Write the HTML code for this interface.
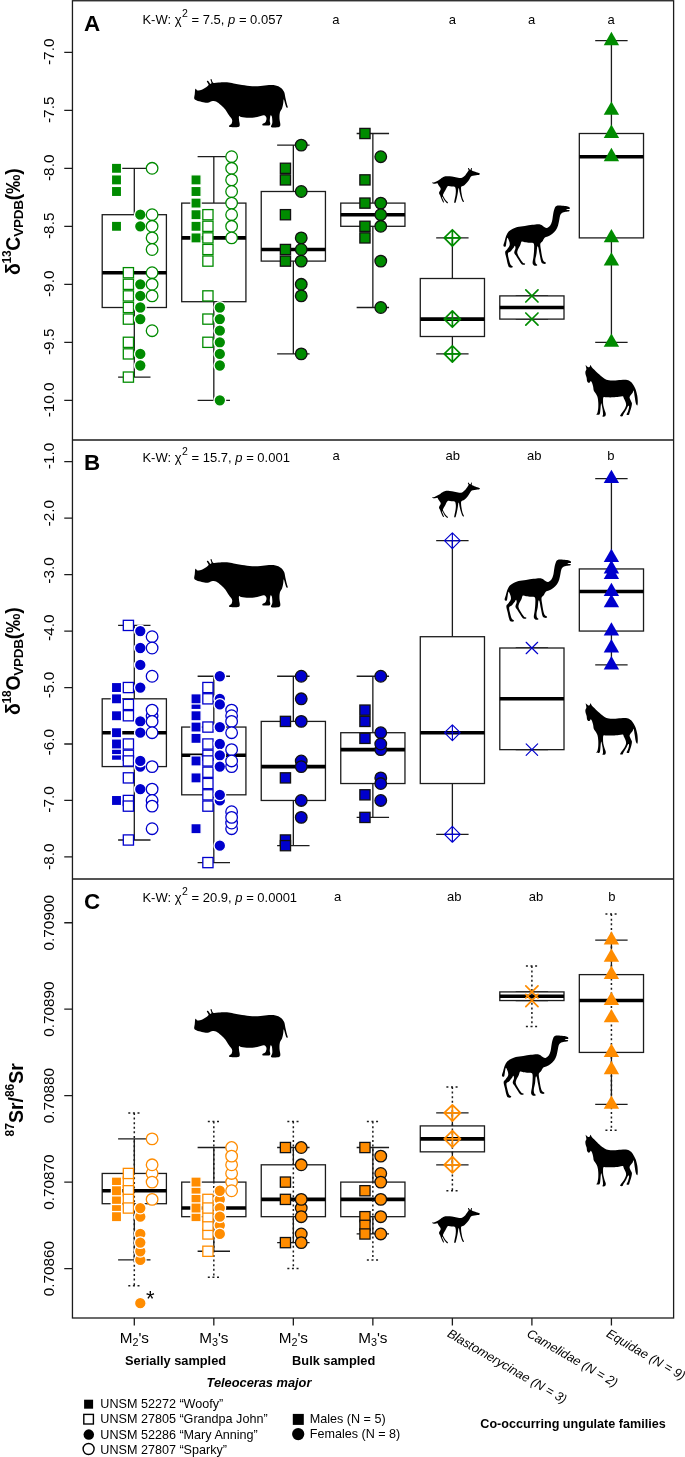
<!DOCTYPE html>
<html><head><meta charset="utf-8"><title>Isotope box plots</title>
<style>html,body{margin:0;padding:0;background:#fff}svg{display:block}text{font-family:"Liberation Sans",sans-serif;fill:#000}</style></head>
<body>
<svg width="685" height="1457" viewBox="0 0 685 1457">
<rect width="685" height="1457" fill="#fff"/>
<path transform="translate(0 0)" fill="#000" d="M195.41 88.8C195.88 88.16 196.53 90.31 197.59 90.48C198.65 90.65 200.11 90.56 201.79 89.81C203.47 89.05 206.54 86.87 207.66 85.95C208.78 85.02 208.64 85.02 208.5 84.27C208.36 83.51 206.88 81.95 206.82 81.42C206.77 80.88 207.61 80.69 208.17 81.08C208.73 81.47 209.62 83.43 210.18 83.77C210.74 84.1 211.47 83.79 211.52 83.09C211.58 82.39 210.52 80.21 210.52 79.57C210.52 78.93 211.08 78.7 211.52 79.23C211.97 79.76 212.03 82.23 213.2 82.76C214.38 83.29 216.28 82.51 218.57 82.42C220.87 82.34 224.45 82.09 226.97 82.25C229.49 82.42 231.16 82.95 233.68 83.43C236.2 83.91 239 84.63 242.08 85.11C245.15 85.58 249.07 86.12 252.15 86.28C255.23 86.45 257.74 86.31 260.54 86.12C263.34 85.92 266.42 85.22 268.93 85.11C271.45 85 273.69 85.02 275.65 85.44C277.61 85.86 279.29 86.56 280.69 87.63C282.08 88.69 283.26 90.14 284.04 91.82C284.83 93.5 284.94 95.74 285.39 97.7C285.83 99.66 286.34 101.98 286.73 103.57C287.12 105.17 287.79 106.65 287.74 107.27C287.68 107.88 286.87 108.02 286.39 107.27C285.92 106.51 285.33 104.05 284.88 102.73C284.43 101.42 283.99 99.24 283.71 99.38C283.43 99.52 283.48 102.04 283.2 103.57C282.92 105.11 282.59 107.07 282.03 108.61C281.47 110.15 280.27 111.13 279.85 112.81C279.43 114.49 279.43 116.72 279.51 118.68C279.59 120.64 280.43 123.16 280.35 124.56C280.27 125.96 280.35 126.6 279.01 127.08C277.66 127.55 273.64 127.55 272.29 127.41C270.95 127.27 270.95 126.99 270.95 126.24C270.95 125.48 272.12 124.42 272.29 122.88C272.46 121.34 272.24 118.26 271.96 117C271.68 115.74 270.98 114.77 270.61 115.32C270.25 115.88 269.83 118.91 269.77 120.36C269.72 121.82 270.42 123.21 270.28 124.05C270.14 124.89 270.14 125.17 268.93 125.4C267.73 125.62 264.12 125.62 263.06 125.4C262 125.17 262.14 124.61 262.56 124.05C262.98 123.49 264.93 123.07 265.58 122.04C266.22 121 266.7 118.96 266.42 117.84C266.14 116.72 265.44 115.46 263.9 115.32C262.36 115.18 259.7 116.58 257.18 117C254.67 117.42 251.45 117.84 248.79 117.84C246.13 117.84 242.86 117.28 241.24 117C239.61 116.72 239.42 115.6 239.05 116.16C238.69 116.72 238.94 118.96 239.05 120.36C239.17 121.76 239.84 123.44 239.73 124.56C239.61 125.68 239.95 126.66 238.38 127.08C236.82 127.5 231.86 127.3 230.32 127.08C228.79 126.85 228.93 126.35 229.15 125.73C229.37 125.12 231.19 124.42 231.67 123.38C232.14 122.35 232.45 120.86 232 119.52C231.56 118.18 230.1 117 228.98 115.32C227.86 113.65 226.6 111.13 225.29 109.45C223.97 107.77 222.63 106.57 221.09 105.25C219.55 103.94 217.45 102.26 216.06 101.56C214.66 100.86 214.1 100.86 212.7 101.06C211.3 101.25 209.48 102.59 207.66 102.73C205.84 102.87 203.61 102.26 201.79 101.9C199.97 101.53 198.01 101.11 196.75 100.55C195.49 99.99 194.57 99.57 194.23 98.54C193.9 97.5 194.54 95.96 194.74 94.34C194.93 92.72 194.93 89.44 195.41 88.8Z"/>
<path transform="translate(0 480)" fill="#000" d="M195.41 88.8C195.88 88.16 196.53 90.31 197.59 90.48C198.65 90.65 200.11 90.56 201.79 89.81C203.47 89.05 206.54 86.87 207.66 85.95C208.78 85.02 208.64 85.02 208.5 84.27C208.36 83.51 206.88 81.95 206.82 81.42C206.77 80.88 207.61 80.69 208.17 81.08C208.73 81.47 209.62 83.43 210.18 83.77C210.74 84.1 211.47 83.79 211.52 83.09C211.58 82.39 210.52 80.21 210.52 79.57C210.52 78.93 211.08 78.7 211.52 79.23C211.97 79.76 212.03 82.23 213.2 82.76C214.38 83.29 216.28 82.51 218.57 82.42C220.87 82.34 224.45 82.09 226.97 82.25C229.49 82.42 231.16 82.95 233.68 83.43C236.2 83.91 239 84.63 242.08 85.11C245.15 85.58 249.07 86.12 252.15 86.28C255.23 86.45 257.74 86.31 260.54 86.12C263.34 85.92 266.42 85.22 268.93 85.11C271.45 85 273.69 85.02 275.65 85.44C277.61 85.86 279.29 86.56 280.69 87.63C282.08 88.69 283.26 90.14 284.04 91.82C284.83 93.5 284.94 95.74 285.39 97.7C285.83 99.66 286.34 101.98 286.73 103.57C287.12 105.17 287.79 106.65 287.74 107.27C287.68 107.88 286.87 108.02 286.39 107.27C285.92 106.51 285.33 104.05 284.88 102.73C284.43 101.42 283.99 99.24 283.71 99.38C283.43 99.52 283.48 102.04 283.2 103.57C282.92 105.11 282.59 107.07 282.03 108.61C281.47 110.15 280.27 111.13 279.85 112.81C279.43 114.49 279.43 116.72 279.51 118.68C279.59 120.64 280.43 123.16 280.35 124.56C280.27 125.96 280.35 126.6 279.01 127.08C277.66 127.55 273.64 127.55 272.29 127.41C270.95 127.27 270.95 126.99 270.95 126.24C270.95 125.48 272.12 124.42 272.29 122.88C272.46 121.34 272.24 118.26 271.96 117C271.68 115.74 270.98 114.77 270.61 115.32C270.25 115.88 269.83 118.91 269.77 120.36C269.72 121.82 270.42 123.21 270.28 124.05C270.14 124.89 270.14 125.17 268.93 125.4C267.73 125.62 264.12 125.62 263.06 125.4C262 125.17 262.14 124.61 262.56 124.05C262.98 123.49 264.93 123.07 265.58 122.04C266.22 121 266.7 118.96 266.42 117.84C266.14 116.72 265.44 115.46 263.9 115.32C262.36 115.18 259.7 116.58 257.18 117C254.67 117.42 251.45 117.84 248.79 117.84C246.13 117.84 242.86 117.28 241.24 117C239.61 116.72 239.42 115.6 239.05 116.16C238.69 116.72 238.94 118.96 239.05 120.36C239.17 121.76 239.84 123.44 239.73 124.56C239.61 125.68 239.95 126.66 238.38 127.08C236.82 127.5 231.86 127.3 230.32 127.08C228.79 126.85 228.93 126.35 229.15 125.73C229.37 125.12 231.19 124.42 231.67 123.38C232.14 122.35 232.45 120.86 232 119.52C231.56 118.18 230.1 117 228.98 115.32C227.86 113.65 226.6 111.13 225.29 109.45C223.97 107.77 222.63 106.57 221.09 105.25C219.55 103.94 217.45 102.26 216.06 101.56C214.66 100.86 214.1 100.86 212.7 101.06C211.3 101.25 209.48 102.59 207.66 102.73C205.84 102.87 203.61 102.26 201.79 101.9C199.97 101.53 198.01 101.11 196.75 100.55C195.49 99.99 194.57 99.57 194.23 98.54C193.9 97.5 194.54 95.96 194.74 94.34C194.93 92.72 194.93 89.44 195.41 88.8Z"/>
<path transform="translate(0 930)" fill="#000" d="M195.41 88.8C195.88 88.16 196.53 90.31 197.59 90.48C198.65 90.65 200.11 90.56 201.79 89.81C203.47 89.05 206.54 86.87 207.66 85.95C208.78 85.02 208.64 85.02 208.5 84.27C208.36 83.51 206.88 81.95 206.82 81.42C206.77 80.88 207.61 80.69 208.17 81.08C208.73 81.47 209.62 83.43 210.18 83.77C210.74 84.1 211.47 83.79 211.52 83.09C211.58 82.39 210.52 80.21 210.52 79.57C210.52 78.93 211.08 78.7 211.52 79.23C211.97 79.76 212.03 82.23 213.2 82.76C214.38 83.29 216.28 82.51 218.57 82.42C220.87 82.34 224.45 82.09 226.97 82.25C229.49 82.42 231.16 82.95 233.68 83.43C236.2 83.91 239 84.63 242.08 85.11C245.15 85.58 249.07 86.12 252.15 86.28C255.23 86.45 257.74 86.31 260.54 86.12C263.34 85.92 266.42 85.22 268.93 85.11C271.45 85 273.69 85.02 275.65 85.44C277.61 85.86 279.29 86.56 280.69 87.63C282.08 88.69 283.26 90.14 284.04 91.82C284.83 93.5 284.94 95.74 285.39 97.7C285.83 99.66 286.34 101.98 286.73 103.57C287.12 105.17 287.79 106.65 287.74 107.27C287.68 107.88 286.87 108.02 286.39 107.27C285.92 106.51 285.33 104.05 284.88 102.73C284.43 101.42 283.99 99.24 283.71 99.38C283.43 99.52 283.48 102.04 283.2 103.57C282.92 105.11 282.59 107.07 282.03 108.61C281.47 110.15 280.27 111.13 279.85 112.81C279.43 114.49 279.43 116.72 279.51 118.68C279.59 120.64 280.43 123.16 280.35 124.56C280.27 125.96 280.35 126.6 279.01 127.08C277.66 127.55 273.64 127.55 272.29 127.41C270.95 127.27 270.95 126.99 270.95 126.24C270.95 125.48 272.12 124.42 272.29 122.88C272.46 121.34 272.24 118.26 271.96 117C271.68 115.74 270.98 114.77 270.61 115.32C270.25 115.88 269.83 118.91 269.77 120.36C269.72 121.82 270.42 123.21 270.28 124.05C270.14 124.89 270.14 125.17 268.93 125.4C267.73 125.62 264.12 125.62 263.06 125.4C262 125.17 262.14 124.61 262.56 124.05C262.98 123.49 264.93 123.07 265.58 122.04C266.22 121 266.7 118.96 266.42 117.84C266.14 116.72 265.44 115.46 263.9 115.32C262.36 115.18 259.7 116.58 257.18 117C254.67 117.42 251.45 117.84 248.79 117.84C246.13 117.84 242.86 117.28 241.24 117C239.61 116.72 239.42 115.6 239.05 116.16C238.69 116.72 238.94 118.96 239.05 120.36C239.17 121.76 239.84 123.44 239.73 124.56C239.61 125.68 239.95 126.66 238.38 127.08C236.82 127.5 231.86 127.3 230.32 127.08C228.79 126.85 228.93 126.35 229.15 125.73C229.37 125.12 231.19 124.42 231.67 123.38C232.14 122.35 232.45 120.86 232 119.52C231.56 118.18 230.1 117 228.98 115.32C227.86 113.65 226.6 111.13 225.29 109.45C223.97 107.77 222.63 106.57 221.09 105.25C219.55 103.94 217.45 102.26 216.06 101.56C214.66 100.86 214.1 100.86 212.7 101.06C211.3 101.25 209.48 102.59 207.66 102.73C205.84 102.87 203.61 102.26 201.79 101.9C199.97 101.53 198.01 101.11 196.75 100.55C195.49 99.99 194.57 99.57 194.23 98.54C193.9 97.5 194.54 95.96 194.74 94.34C194.93 92.72 194.93 89.44 195.41 88.8Z"/>
<path transform="translate(0 0)" fill="#000" d="M432.12 182.77C432.35 182.56 433.46 182.69 434.49 182.3C435.52 181.9 436.94 181.19 438.28 180.4C439.63 179.61 441.37 178.23 442.55 177.55C443.74 176.87 444.21 176.52 445.4 176.32C446.58 176.11 448.17 176.19 449.67 176.32C451.17 176.45 452.83 176.79 454.41 177.08C455.99 177.36 457.81 177.95 459.16 178.03C460.5 178.11 461.45 178.03 462.48 177.55C463.5 177.08 464.45 176.13 465.32 175.18C466.19 174.23 467.14 172.68 467.69 171.86C468.25 171.04 468.61 170.8 468.64 170.25C468.67 169.69 467.88 168.9 467.88 168.54C467.88 168.18 468.33 167.91 468.64 168.06C468.96 168.22 469.43 169.25 469.78 169.49C470.13 169.72 470.51 169.72 470.73 169.49C470.95 169.25 470.92 168.25 471.11 168.06C471.3 167.87 471.74 167.95 471.87 168.35C472 168.74 471.46 169.9 471.87 170.44C472.28 170.97 473.29 171.18 474.34 171.57C475.38 171.97 477.21 172.48 478.13 172.81C479.05 173.14 479.65 173.25 479.84 173.57C480.03 173.88 479.87 174.44 479.27 174.71C478.67 174.97 477.29 175.02 476.23 175.18C475.17 175.34 473.78 175.42 472.91 175.65C472.04 175.89 471.57 176.05 471.02 176.6C470.46 177.16 470.22 178.03 469.59 178.98C468.96 179.92 468.09 181.27 467.22 182.3C466.35 183.32 465.32 184.43 464.37 185.14C463.43 185.85 462.08 186.01 461.53 186.57C460.97 187.12 461.05 187.36 461.05 188.46C461.05 189.57 461.29 191.63 461.53 193.21C461.76 194.79 462.08 196.61 462.48 197.95C462.87 199.29 463.74 200.61 463.9 201.27C464.06 201.94 463.66 201.94 463.43 201.94C463.19 201.94 462.9 202.09 462.48 201.27C462.05 200.45 461.34 198.5 460.86 197C460.39 195.5 459.95 193.68 459.63 192.26C459.31 190.83 459.17 189.1 458.97 188.46C458.76 187.83 458.6 187.67 458.4 188.46C458.19 189.25 458 191.63 457.73 193.21C457.46 194.79 457.1 196.53 456.78 197.95C456.47 199.37 456.1 200.92 455.83 201.75C455.57 202.57 455.44 202.76 455.17 202.88C454.9 203.01 454.32 203.01 454.22 202.5C454.13 202 454.38 201.08 454.6 199.85C454.82 198.61 455.34 196.69 455.55 195.1C455.76 193.52 455.95 191.7 455.83 190.36C455.72 189.02 455.6 187.67 454.89 187.04C454.17 186.41 452.67 186.72 451.57 186.57C450.46 186.41 449.04 185.93 448.24 186.09C447.45 186.25 447.3 186.8 446.82 187.51C446.35 188.23 445.95 189.33 445.4 190.36C444.85 191.39 443.9 192.81 443.5 193.68C443.11 194.55 442.71 194.55 443.03 195.58C443.34 196.61 444.61 198.74 445.4 199.85C446.19 200.96 447.38 201.67 447.77 202.22C448.17 202.77 447.96 203.06 447.77 203.17C447.58 203.28 447.19 203.36 446.63 202.88C446.08 202.41 445.13 201.3 444.45 200.32C443.77 199.34 442.95 197.48 442.55 197C442.16 196.53 441.92 196.84 442.08 197.48C442.24 198.11 443.18 200.01 443.5 200.8C443.82 201.59 444.05 201.98 443.98 202.22C443.9 202.46 443.42 202.69 443.03 202.22C442.63 201.75 442.08 200.48 441.6 199.37C441.13 198.27 440.61 196.69 440.18 195.58C439.75 194.47 438.96 193.76 439.04 192.73C439.12 191.7 440.46 190.28 440.65 189.41C440.84 188.54 440.58 188.3 440.18 187.51C439.78 186.72 438.76 185.38 438.28 184.67C437.81 183.96 437.89 183.4 437.33 183.24C436.78 183.09 435.67 183.67 434.96 183.72C434.25 183.77 433.54 183.69 433.06 183.53C432.59 183.37 431.88 182.98 432.12 182.77Z"/>
<path transform="translate(0 314.6)" fill="#000" d="M432.12 182.77C432.35 182.56 433.46 182.69 434.49 182.3C435.52 181.9 436.94 181.19 438.28 180.4C439.63 179.61 441.37 178.23 442.55 177.55C443.74 176.87 444.21 176.52 445.4 176.32C446.58 176.11 448.17 176.19 449.67 176.32C451.17 176.45 452.83 176.79 454.41 177.08C455.99 177.36 457.81 177.95 459.16 178.03C460.5 178.11 461.45 178.03 462.48 177.55C463.5 177.08 464.45 176.13 465.32 175.18C466.19 174.23 467.14 172.68 467.69 171.86C468.25 171.04 468.61 170.8 468.64 170.25C468.67 169.69 467.88 168.9 467.88 168.54C467.88 168.18 468.33 167.91 468.64 168.06C468.96 168.22 469.43 169.25 469.78 169.49C470.13 169.72 470.51 169.72 470.73 169.49C470.95 169.25 470.92 168.25 471.11 168.06C471.3 167.87 471.74 167.95 471.87 168.35C472 168.74 471.46 169.9 471.87 170.44C472.28 170.97 473.29 171.18 474.34 171.57C475.38 171.97 477.21 172.48 478.13 172.81C479.05 173.14 479.65 173.25 479.84 173.57C480.03 173.88 479.87 174.44 479.27 174.71C478.67 174.97 477.29 175.02 476.23 175.18C475.17 175.34 473.78 175.42 472.91 175.65C472.04 175.89 471.57 176.05 471.02 176.6C470.46 177.16 470.22 178.03 469.59 178.98C468.96 179.92 468.09 181.27 467.22 182.3C466.35 183.32 465.32 184.43 464.37 185.14C463.43 185.85 462.08 186.01 461.53 186.57C460.97 187.12 461.05 187.36 461.05 188.46C461.05 189.57 461.29 191.63 461.53 193.21C461.76 194.79 462.08 196.61 462.48 197.95C462.87 199.29 463.74 200.61 463.9 201.27C464.06 201.94 463.66 201.94 463.43 201.94C463.19 201.94 462.9 202.09 462.48 201.27C462.05 200.45 461.34 198.5 460.86 197C460.39 195.5 459.95 193.68 459.63 192.26C459.31 190.83 459.17 189.1 458.97 188.46C458.76 187.83 458.6 187.67 458.4 188.46C458.19 189.25 458 191.63 457.73 193.21C457.46 194.79 457.1 196.53 456.78 197.95C456.47 199.37 456.1 200.92 455.83 201.75C455.57 202.57 455.44 202.76 455.17 202.88C454.9 203.01 454.32 203.01 454.22 202.5C454.13 202 454.38 201.08 454.6 199.85C454.82 198.61 455.34 196.69 455.55 195.1C455.76 193.52 455.95 191.7 455.83 190.36C455.72 189.02 455.6 187.67 454.89 187.04C454.17 186.41 452.67 186.72 451.57 186.57C450.46 186.41 449.04 185.93 448.24 186.09C447.45 186.25 447.3 186.8 446.82 187.51C446.35 188.23 445.95 189.33 445.4 190.36C444.85 191.39 443.9 192.81 443.5 193.68C443.11 194.55 442.71 194.55 443.03 195.58C443.34 196.61 444.61 198.74 445.4 199.85C446.19 200.96 447.38 201.67 447.77 202.22C448.17 202.77 447.96 203.06 447.77 203.17C447.58 203.28 447.19 203.36 446.63 202.88C446.08 202.41 445.13 201.3 444.45 200.32C443.77 199.34 442.95 197.48 442.55 197C442.16 196.53 441.92 196.84 442.08 197.48C442.24 198.11 443.18 200.01 443.5 200.8C443.82 201.59 444.05 201.98 443.98 202.22C443.9 202.46 443.42 202.69 443.03 202.22C442.63 201.75 442.08 200.48 441.6 199.37C441.13 198.27 440.61 196.69 440.18 195.58C439.75 194.47 438.96 193.76 439.04 192.73C439.12 191.7 440.46 190.28 440.65 189.41C440.84 188.54 440.58 188.3 440.18 187.51C439.78 186.72 438.76 185.38 438.28 184.67C437.81 183.96 437.89 183.4 437.33 183.24C436.78 183.09 435.67 183.67 434.96 183.72C434.25 183.77 433.54 183.69 433.06 183.53C432.59 183.37 431.88 182.98 432.12 182.77Z"/>
<path transform="translate(0 1040)" fill="#000" d="M432.12 182.77C432.35 182.56 433.46 182.69 434.49 182.3C435.52 181.9 436.94 181.19 438.28 180.4C439.63 179.61 441.37 178.23 442.55 177.55C443.74 176.87 444.21 176.52 445.4 176.32C446.58 176.11 448.17 176.19 449.67 176.32C451.17 176.45 452.83 176.79 454.41 177.08C455.99 177.36 457.81 177.95 459.16 178.03C460.5 178.11 461.45 178.03 462.48 177.55C463.5 177.08 464.45 176.13 465.32 175.18C466.19 174.23 467.14 172.68 467.69 171.86C468.25 171.04 468.61 170.8 468.64 170.25C468.67 169.69 467.88 168.9 467.88 168.54C467.88 168.18 468.33 167.91 468.64 168.06C468.96 168.22 469.43 169.25 469.78 169.49C470.13 169.72 470.51 169.72 470.73 169.49C470.95 169.25 470.92 168.25 471.11 168.06C471.3 167.87 471.74 167.95 471.87 168.35C472 168.74 471.46 169.9 471.87 170.44C472.28 170.97 473.29 171.18 474.34 171.57C475.38 171.97 477.21 172.48 478.13 172.81C479.05 173.14 479.65 173.25 479.84 173.57C480.03 173.88 479.87 174.44 479.27 174.71C478.67 174.97 477.29 175.02 476.23 175.18C475.17 175.34 473.78 175.42 472.91 175.65C472.04 175.89 471.57 176.05 471.02 176.6C470.46 177.16 470.22 178.03 469.59 178.98C468.96 179.92 468.09 181.27 467.22 182.3C466.35 183.32 465.32 184.43 464.37 185.14C463.43 185.85 462.08 186.01 461.53 186.57C460.97 187.12 461.05 187.36 461.05 188.46C461.05 189.57 461.29 191.63 461.53 193.21C461.76 194.79 462.08 196.61 462.48 197.95C462.87 199.29 463.74 200.61 463.9 201.27C464.06 201.94 463.66 201.94 463.43 201.94C463.19 201.94 462.9 202.09 462.48 201.27C462.05 200.45 461.34 198.5 460.86 197C460.39 195.5 459.95 193.68 459.63 192.26C459.31 190.83 459.17 189.1 458.97 188.46C458.76 187.83 458.6 187.67 458.4 188.46C458.19 189.25 458 191.63 457.73 193.21C457.46 194.79 457.1 196.53 456.78 197.95C456.47 199.37 456.1 200.92 455.83 201.75C455.57 202.57 455.44 202.76 455.17 202.88C454.9 203.01 454.32 203.01 454.22 202.5C454.13 202 454.38 201.08 454.6 199.85C454.82 198.61 455.34 196.69 455.55 195.1C455.76 193.52 455.95 191.7 455.83 190.36C455.72 189.02 455.6 187.67 454.89 187.04C454.17 186.41 452.67 186.72 451.57 186.57C450.46 186.41 449.04 185.93 448.24 186.09C447.45 186.25 447.3 186.8 446.82 187.51C446.35 188.23 445.95 189.33 445.4 190.36C444.85 191.39 443.9 192.81 443.5 193.68C443.11 194.55 442.71 194.55 443.03 195.58C443.34 196.61 444.61 198.74 445.4 199.85C446.19 200.96 447.38 201.67 447.77 202.22C448.17 202.77 447.96 203.06 447.77 203.17C447.58 203.28 447.19 203.36 446.63 202.88C446.08 202.41 445.13 201.3 444.45 200.32C443.77 199.34 442.95 197.48 442.55 197C442.16 196.53 441.92 196.84 442.08 197.48C442.24 198.11 443.18 200.01 443.5 200.8C443.82 201.59 444.05 201.98 443.98 202.22C443.9 202.46 443.42 202.69 443.03 202.22C442.63 201.75 442.08 200.48 441.6 199.37C441.13 198.27 440.61 196.69 440.18 195.58C439.75 194.47 438.96 193.76 439.04 192.73C439.12 191.7 440.46 190.28 440.65 189.41C440.84 188.54 440.58 188.3 440.18 187.51C439.78 186.72 438.76 185.38 438.28 184.67C437.81 183.96 437.89 183.4 437.33 183.24C436.78 183.09 435.67 183.67 434.96 183.72C434.25 183.77 433.54 183.69 433.06 183.53C432.59 183.37 431.88 182.98 432.12 182.77Z"/>
<path transform="translate(0 0)" fill="#000" d="M556.42 205.92C557.7 205.32 560.25 205.63 562.01 205.67C563.76 205.71 565.73 205.92 566.97 206.17C568.21 206.42 569 206.75 569.45 207.16C569.91 207.57 570.01 208.36 569.7 208.65C569.39 208.94 568.15 208.73 567.59 208.9C567.03 209.06 566.04 209.44 566.35 209.64C566.66 209.85 568.98 209.89 569.45 210.14C569.93 210.39 569.82 210.86 569.2 211.13C568.58 211.4 566.93 211.44 565.73 211.75C564.53 212.06 562.94 212.37 562.01 212.99C561.08 213.61 560.6 214.34 560.14 215.47C559.69 216.61 559.63 218.16 559.28 219.82C558.92 221.47 558.61 223.64 558.04 225.4C557.46 227.16 556.79 228.92 555.8 230.36C554.81 231.81 553.42 233.05 552.08 234.09C550.73 235.12 548.98 235.95 547.74 236.57C546.5 237.19 545.46 237.09 544.63 237.81C543.81 238.53 543.39 240.08 542.77 240.91C542.15 241.74 541.33 242.15 540.91 242.77C540.5 243.39 540.29 243.5 540.29 244.63C540.29 245.77 540.64 247.74 540.91 249.6C541.18 251.46 541.49 253.94 541.9 255.8C542.32 257.66 542.73 259.63 543.39 260.76C544.05 261.9 545.56 262.11 545.87 262.63C546.19 263.14 545.77 263.72 545.25 263.87C544.74 264.01 543.46 263.91 542.77 263.49C542.09 263.08 541.68 262.87 541.16 261.39C540.64 259.9 540.17 256.94 539.67 254.56C539.17 252.18 538.6 248.36 538.18 247.12C537.77 245.87 537.46 246.08 537.19 247.12C536.92 248.15 536.88 251.25 536.57 253.32C536.26 255.39 535.47 257.87 535.33 259.52C535.18 261.18 535.39 262.38 535.7 263.25C536.01 264.12 537.04 264.32 537.19 264.74C537.33 265.15 537.09 265.6 536.57 265.73C536.05 265.85 534.75 265.94 534.09 265.48C533.42 265.03 532.7 264.4 532.6 263C532.49 261.59 533.22 259.28 533.47 257.04C533.71 254.81 534.05 251.87 534.09 249.6C534.13 247.32 534.44 244.53 533.71 243.39C532.99 242.26 531.23 242.98 529.74 242.77C528.25 242.57 526.12 242.36 524.78 242.15C523.44 241.95 522.4 241.12 521.68 241.53C520.95 241.95 521.06 243.29 520.44 244.63C519.82 245.98 518.47 248.15 517.96 249.6C517.44 251.05 517.03 251.87 517.34 253.32C517.65 254.77 518.89 256.73 519.82 258.28C520.75 259.83 522.05 261.76 522.92 262.63C523.79 263.49 524.76 263.14 525.03 263.49C525.3 263.85 525.09 264.61 524.53 264.74C523.97 264.86 522.57 264.9 521.68 264.24C520.79 263.58 520.13 262.17 519.2 260.76C518.27 259.36 516.92 257.15 516.09 255.8C515.27 254.46 514.34 253.94 514.23 252.7C514.13 251.46 515.37 249.49 515.47 248.36C515.58 247.22 515.16 245.98 514.85 245.87C514.54 245.77 514.34 246.81 513.61 247.74C512.89 248.67 511.44 250.53 510.51 251.46C509.58 252.39 508.34 252.18 508.03 253.32C507.72 254.46 508.24 256.42 508.65 258.28C509.06 260.14 509.85 263.14 510.51 264.49C511.17 265.83 512.35 265.83 512.62 266.35C512.89 266.87 512.68 267.42 512.12 267.59C511.57 267.76 509.95 267.76 509.27 267.34C508.59 266.93 508.5 266.62 508.03 265.11C507.55 263.6 506.89 260.45 506.42 258.28C505.94 256.11 505.01 253.63 505.17 252.08C505.34 250.53 506.66 250.11 507.41 248.98C508.15 247.84 509.33 246.5 509.64 245.25C509.95 244.01 509.64 242.77 509.27 241.53C508.9 240.29 507.88 237.71 507.41 237.81C506.93 237.91 506.73 240.7 506.42 242.15C506.11 243.6 506.04 245.92 505.55 246.5C505.05 247.07 503.58 246.56 503.44 245.63C503.29 244.7 504.18 242.63 504.68 240.91C505.17 239.19 505.75 236.88 506.42 235.33C507.08 233.78 507.66 232.64 508.65 231.61C509.64 230.57 510.92 229.89 512.37 229.12C513.82 228.36 515.27 227.53 517.34 227.01C519.4 226.5 522.3 226.39 524.78 226.02C527.26 225.65 529.95 225.09 532.23 224.78C534.5 224.47 536.88 224.12 538.43 224.16C539.98 224.2 540.5 224.51 541.53 225.03C542.57 225.55 543.7 226.79 544.63 227.26C545.56 227.74 546.19 228.19 547.12 227.88C548.05 227.57 549.39 226.54 550.22 225.4C551.05 224.26 551.6 222.82 552.08 221.06C552.55 219.3 552.7 216.82 553.07 214.85C553.44 212.89 553.75 210.76 554.31 209.27C554.87 207.78 555.14 206.52 556.42 205.92Z"/>
<path transform="translate(1.2 354)" fill="#000" d="M556.42 205.92C557.7 205.32 560.25 205.63 562.01 205.67C563.76 205.71 565.73 205.92 566.97 206.17C568.21 206.42 569 206.75 569.45 207.16C569.91 207.57 570.01 208.36 569.7 208.65C569.39 208.94 568.15 208.73 567.59 208.9C567.03 209.06 566.04 209.44 566.35 209.64C566.66 209.85 568.98 209.89 569.45 210.14C569.93 210.39 569.82 210.86 569.2 211.13C568.58 211.4 566.93 211.44 565.73 211.75C564.53 212.06 562.94 212.37 562.01 212.99C561.08 213.61 560.6 214.34 560.14 215.47C559.69 216.61 559.63 218.16 559.28 219.82C558.92 221.47 558.61 223.64 558.04 225.4C557.46 227.16 556.79 228.92 555.8 230.36C554.81 231.81 553.42 233.05 552.08 234.09C550.73 235.12 548.98 235.95 547.74 236.57C546.5 237.19 545.46 237.09 544.63 237.81C543.81 238.53 543.39 240.08 542.77 240.91C542.15 241.74 541.33 242.15 540.91 242.77C540.5 243.39 540.29 243.5 540.29 244.63C540.29 245.77 540.64 247.74 540.91 249.6C541.18 251.46 541.49 253.94 541.9 255.8C542.32 257.66 542.73 259.63 543.39 260.76C544.05 261.9 545.56 262.11 545.87 262.63C546.19 263.14 545.77 263.72 545.25 263.87C544.74 264.01 543.46 263.91 542.77 263.49C542.09 263.08 541.68 262.87 541.16 261.39C540.64 259.9 540.17 256.94 539.67 254.56C539.17 252.18 538.6 248.36 538.18 247.12C537.77 245.87 537.46 246.08 537.19 247.12C536.92 248.15 536.88 251.25 536.57 253.32C536.26 255.39 535.47 257.87 535.33 259.52C535.18 261.18 535.39 262.38 535.7 263.25C536.01 264.12 537.04 264.32 537.19 264.74C537.33 265.15 537.09 265.6 536.57 265.73C536.05 265.85 534.75 265.94 534.09 265.48C533.42 265.03 532.7 264.4 532.6 263C532.49 261.59 533.22 259.28 533.47 257.04C533.71 254.81 534.05 251.87 534.09 249.6C534.13 247.32 534.44 244.53 533.71 243.39C532.99 242.26 531.23 242.98 529.74 242.77C528.25 242.57 526.12 242.36 524.78 242.15C523.44 241.95 522.4 241.12 521.68 241.53C520.95 241.95 521.06 243.29 520.44 244.63C519.82 245.98 518.47 248.15 517.96 249.6C517.44 251.05 517.03 251.87 517.34 253.32C517.65 254.77 518.89 256.73 519.82 258.28C520.75 259.83 522.05 261.76 522.92 262.63C523.79 263.49 524.76 263.14 525.03 263.49C525.3 263.85 525.09 264.61 524.53 264.74C523.97 264.86 522.57 264.9 521.68 264.24C520.79 263.58 520.13 262.17 519.2 260.76C518.27 259.36 516.92 257.15 516.09 255.8C515.27 254.46 514.34 253.94 514.23 252.7C514.13 251.46 515.37 249.49 515.47 248.36C515.58 247.22 515.16 245.98 514.85 245.87C514.54 245.77 514.34 246.81 513.61 247.74C512.89 248.67 511.44 250.53 510.51 251.46C509.58 252.39 508.34 252.18 508.03 253.32C507.72 254.46 508.24 256.42 508.65 258.28C509.06 260.14 509.85 263.14 510.51 264.49C511.17 265.83 512.35 265.83 512.62 266.35C512.89 266.87 512.68 267.42 512.12 267.59C511.57 267.76 509.95 267.76 509.27 267.34C508.59 266.93 508.5 266.62 508.03 265.11C507.55 263.6 506.89 260.45 506.42 258.28C505.94 256.11 505.01 253.63 505.17 252.08C505.34 250.53 506.66 250.11 507.41 248.98C508.15 247.84 509.33 246.5 509.64 245.25C509.95 244.01 509.64 242.77 509.27 241.53C508.9 240.29 507.88 237.71 507.41 237.81C506.93 237.91 506.73 240.7 506.42 242.15C506.11 243.6 506.04 245.92 505.55 246.5C505.05 247.07 503.58 246.56 503.44 245.63C503.29 244.7 504.18 242.63 504.68 240.91C505.17 239.19 505.75 236.88 506.42 235.33C507.08 233.78 507.66 232.64 508.65 231.61C509.64 230.57 510.92 229.89 512.37 229.12C513.82 228.36 515.27 227.53 517.34 227.01C519.4 226.5 522.3 226.39 524.78 226.02C527.26 225.65 529.95 225.09 532.23 224.78C534.5 224.47 536.88 224.12 538.43 224.16C539.98 224.2 540.5 224.51 541.53 225.03C542.57 225.55 543.7 226.79 544.63 227.26C545.56 227.74 546.19 228.19 547.12 227.88C548.05 227.57 549.39 226.54 550.22 225.4C551.05 224.26 551.6 222.82 552.08 221.06C552.55 219.3 552.7 216.82 553.07 214.85C553.44 212.89 553.75 210.76 554.31 209.27C554.87 207.78 555.14 206.52 556.42 205.92Z"/>
<path transform="translate(-1.5 830)" fill="#000" d="M556.42 205.92C557.7 205.32 560.25 205.63 562.01 205.67C563.76 205.71 565.73 205.92 566.97 206.17C568.21 206.42 569 206.75 569.45 207.16C569.91 207.57 570.01 208.36 569.7 208.65C569.39 208.94 568.15 208.73 567.59 208.9C567.03 209.06 566.04 209.44 566.35 209.64C566.66 209.85 568.98 209.89 569.45 210.14C569.93 210.39 569.82 210.86 569.2 211.13C568.58 211.4 566.93 211.44 565.73 211.75C564.53 212.06 562.94 212.37 562.01 212.99C561.08 213.61 560.6 214.34 560.14 215.47C559.69 216.61 559.63 218.16 559.28 219.82C558.92 221.47 558.61 223.64 558.04 225.4C557.46 227.16 556.79 228.92 555.8 230.36C554.81 231.81 553.42 233.05 552.08 234.09C550.73 235.12 548.98 235.95 547.74 236.57C546.5 237.19 545.46 237.09 544.63 237.81C543.81 238.53 543.39 240.08 542.77 240.91C542.15 241.74 541.33 242.15 540.91 242.77C540.5 243.39 540.29 243.5 540.29 244.63C540.29 245.77 540.64 247.74 540.91 249.6C541.18 251.46 541.49 253.94 541.9 255.8C542.32 257.66 542.73 259.63 543.39 260.76C544.05 261.9 545.56 262.11 545.87 262.63C546.19 263.14 545.77 263.72 545.25 263.87C544.74 264.01 543.46 263.91 542.77 263.49C542.09 263.08 541.68 262.87 541.16 261.39C540.64 259.9 540.17 256.94 539.67 254.56C539.17 252.18 538.6 248.36 538.18 247.12C537.77 245.87 537.46 246.08 537.19 247.12C536.92 248.15 536.88 251.25 536.57 253.32C536.26 255.39 535.47 257.87 535.33 259.52C535.18 261.18 535.39 262.38 535.7 263.25C536.01 264.12 537.04 264.32 537.19 264.74C537.33 265.15 537.09 265.6 536.57 265.73C536.05 265.85 534.75 265.94 534.09 265.48C533.42 265.03 532.7 264.4 532.6 263C532.49 261.59 533.22 259.28 533.47 257.04C533.71 254.81 534.05 251.87 534.09 249.6C534.13 247.32 534.44 244.53 533.71 243.39C532.99 242.26 531.23 242.98 529.74 242.77C528.25 242.57 526.12 242.36 524.78 242.15C523.44 241.95 522.4 241.12 521.68 241.53C520.95 241.95 521.06 243.29 520.44 244.63C519.82 245.98 518.47 248.15 517.96 249.6C517.44 251.05 517.03 251.87 517.34 253.32C517.65 254.77 518.89 256.73 519.82 258.28C520.75 259.83 522.05 261.76 522.92 262.63C523.79 263.49 524.76 263.14 525.03 263.49C525.3 263.85 525.09 264.61 524.53 264.74C523.97 264.86 522.57 264.9 521.68 264.24C520.79 263.58 520.13 262.17 519.2 260.76C518.27 259.36 516.92 257.15 516.09 255.8C515.27 254.46 514.34 253.94 514.23 252.7C514.13 251.46 515.37 249.49 515.47 248.36C515.58 247.22 515.16 245.98 514.85 245.87C514.54 245.77 514.34 246.81 513.61 247.74C512.89 248.67 511.44 250.53 510.51 251.46C509.58 252.39 508.34 252.18 508.03 253.32C507.72 254.46 508.24 256.42 508.65 258.28C509.06 260.14 509.85 263.14 510.51 264.49C511.17 265.83 512.35 265.83 512.62 266.35C512.89 266.87 512.68 267.42 512.12 267.59C511.57 267.76 509.95 267.76 509.27 267.34C508.59 266.93 508.5 266.62 508.03 265.11C507.55 263.6 506.89 260.45 506.42 258.28C505.94 256.11 505.01 253.63 505.17 252.08C505.34 250.53 506.66 250.11 507.41 248.98C508.15 247.84 509.33 246.5 509.64 245.25C509.95 244.01 509.64 242.77 509.27 241.53C508.9 240.29 507.88 237.71 507.41 237.81C506.93 237.91 506.73 240.7 506.42 242.15C506.11 243.6 506.04 245.92 505.55 246.5C505.05 247.07 503.58 246.56 503.44 245.63C503.29 244.7 504.18 242.63 504.68 240.91C505.17 239.19 505.75 236.88 506.42 235.33C507.08 233.78 507.66 232.64 508.65 231.61C509.64 230.57 510.92 229.89 512.37 229.12C513.82 228.36 515.27 227.53 517.34 227.01C519.4 226.5 522.3 226.39 524.78 226.02C527.26 225.65 529.95 225.09 532.23 224.78C534.5 224.47 536.88 224.12 538.43 224.16C539.98 224.2 540.5 224.51 541.53 225.03C542.57 225.55 543.7 226.79 544.63 227.26C545.56 227.74 546.19 228.19 547.12 227.88C548.05 227.57 549.39 226.54 550.22 225.4C551.05 224.26 551.6 222.82 552.08 221.06C552.55 219.3 552.7 216.82 553.07 214.85C553.44 212.89 553.75 210.76 554.31 209.27C554.87 207.78 555.14 206.52 556.42 205.92Z"/>
<path transform="translate(0 0)" fill="#000" d="M585.66 365.15C585.72 364.64 586.26 365.83 586.69 366.17C587.11 366.52 587.71 367.11 588.22 367.2C588.73 367.28 589.38 367.06 589.75 366.69C590.13 366.31 590.13 364.86 590.47 364.95C590.81 365.03 591.15 366.4 591.8 367.2C592.44 368 593.24 368.64 594.35 369.75C595.46 370.86 596.9 372.48 598.44 373.84C599.97 375.2 602.01 376.9 603.55 377.93C605.08 378.95 605.93 379.54 607.63 379.97C609.34 380.4 611.55 380.48 613.77 380.48C615.98 380.48 618.7 380.06 620.92 379.97C623.13 379.89 625.35 379.63 627.05 379.97C628.75 380.31 630.03 381.08 631.14 382.01C632.24 382.95 632.93 384.31 633.69 385.59C634.46 386.87 635.14 387.97 635.74 389.68C636.33 391.38 636.93 393.77 637.27 395.81C637.61 397.85 637.78 400.32 637.78 401.94C637.78 403.56 637.61 405.35 637.27 405.52C636.93 405.69 636.16 404.41 635.74 402.96C635.31 401.51 635.05 398.87 634.71 396.83C634.37 394.79 634.03 391.38 633.69 390.7C633.35 390.02 633.18 391.98 632.67 392.74C632.16 393.51 631.14 394.45 630.63 395.3C630.12 396.15 629.52 396.83 629.6 397.85C629.69 398.87 630.75 400.49 631.14 401.43C631.53 402.37 631.95 402.37 631.95 403.47C631.95 404.58 631.53 406.54 631.14 408.07C630.75 409.6 629.98 411.56 629.6 412.67C629.23 413.78 629.4 414.42 628.89 414.71C628.38 415 626.67 415 626.54 414.41C626.4 413.81 627.65 412.45 628.07 411.14C628.5 409.83 629.09 407.39 629.09 406.54C629.09 405.69 628.58 405.43 628.07 406.03C627.56 406.62 626.79 408.75 626.03 410.12C625.26 411.48 624.07 413.18 623.47 414.2C622.88 415.22 623.01 415.94 622.45 416.25C621.89 416.55 620.36 416.38 620.1 416.04C619.85 415.7 620.27 415.19 620.92 414.2C621.57 413.21 623.13 411.56 623.98 410.12C624.84 408.67 625.77 406.88 626.03 405.52C626.28 404.15 625.89 403.13 625.52 401.94C625.14 400.75 624.24 399.3 623.78 398.36C623.32 397.43 623.58 396.58 622.76 396.32C621.94 396.06 620.54 396.66 618.87 396.83C617.21 397 614.79 397.26 612.74 397.34C610.7 397.43 608.15 397.34 606.61 397.34C605.08 397.34 604.14 396.75 603.55 397.34C602.95 397.94 603.07 399.56 603.04 400.92C603 402.28 603.09 403.98 603.34 405.52C603.6 407.05 604.16 408.75 604.57 410.12C604.98 411.48 605.71 412.67 605.79 413.69C605.88 414.71 605.62 415.79 605.08 416.25C604.53 416.71 602.87 416.79 602.52 416.45C602.18 416.11 603.04 415.43 603.04 414.2C603.04 412.98 602.78 410.8 602.52 409.09C602.27 407.39 601.76 404.84 601.5 403.98C601.25 403.13 601.16 403.13 600.99 403.98C600.82 404.84 600.65 407.56 600.48 409.09C600.31 410.63 600.23 412.24 599.97 413.18C599.71 414.12 599.54 414.51 598.95 414.71C598.35 414.92 596.65 414.75 596.39 414.41C596.14 414.07 597.11 413.73 597.42 412.67C597.72 411.61 598.1 409.86 598.23 408.07C598.37 406.28 598.37 403.81 598.23 401.94C598.1 400.07 597.81 398.19 597.42 396.83C597.02 395.47 596.48 394.79 595.88 393.77C595.29 392.74 594.3 391.89 593.84 390.7C593.38 389.51 593.41 387.89 593.12 386.61C592.83 385.33 592.49 383.97 592.1 383.04C591.71 382.1 591.17 381.08 590.77 380.99C590.38 380.91 590.18 382.24 589.75 382.52C589.33 382.81 588.68 382.98 588.22 382.73C587.76 382.47 587.25 381.79 586.99 380.99C586.74 380.19 586.91 378.95 586.69 377.93C586.46 376.9 585.89 375.88 585.66 374.86C585.44 373.84 585.24 372.73 585.36 371.8C585.48 370.86 586.33 370.35 586.38 369.24C586.43 368.13 585.61 365.66 585.66 365.15Z"/>
<path transform="translate(0 338.2)" fill="#000" d="M585.66 365.15C585.72 364.64 586.26 365.83 586.69 366.17C587.11 366.52 587.71 367.11 588.22 367.2C588.73 367.28 589.38 367.06 589.75 366.69C590.13 366.31 590.13 364.86 590.47 364.95C590.81 365.03 591.15 366.4 591.8 367.2C592.44 368 593.24 368.64 594.35 369.75C595.46 370.86 596.9 372.48 598.44 373.84C599.97 375.2 602.01 376.9 603.55 377.93C605.08 378.95 605.93 379.54 607.63 379.97C609.34 380.4 611.55 380.48 613.77 380.48C615.98 380.48 618.7 380.06 620.92 379.97C623.13 379.89 625.35 379.63 627.05 379.97C628.75 380.31 630.03 381.08 631.14 382.01C632.24 382.95 632.93 384.31 633.69 385.59C634.46 386.87 635.14 387.97 635.74 389.68C636.33 391.38 636.93 393.77 637.27 395.81C637.61 397.85 637.78 400.32 637.78 401.94C637.78 403.56 637.61 405.35 637.27 405.52C636.93 405.69 636.16 404.41 635.74 402.96C635.31 401.51 635.05 398.87 634.71 396.83C634.37 394.79 634.03 391.38 633.69 390.7C633.35 390.02 633.18 391.98 632.67 392.74C632.16 393.51 631.14 394.45 630.63 395.3C630.12 396.15 629.52 396.83 629.6 397.85C629.69 398.87 630.75 400.49 631.14 401.43C631.53 402.37 631.95 402.37 631.95 403.47C631.95 404.58 631.53 406.54 631.14 408.07C630.75 409.6 629.98 411.56 629.6 412.67C629.23 413.78 629.4 414.42 628.89 414.71C628.38 415 626.67 415 626.54 414.41C626.4 413.81 627.65 412.45 628.07 411.14C628.5 409.83 629.09 407.39 629.09 406.54C629.09 405.69 628.58 405.43 628.07 406.03C627.56 406.62 626.79 408.75 626.03 410.12C625.26 411.48 624.07 413.18 623.47 414.2C622.88 415.22 623.01 415.94 622.45 416.25C621.89 416.55 620.36 416.38 620.1 416.04C619.85 415.7 620.27 415.19 620.92 414.2C621.57 413.21 623.13 411.56 623.98 410.12C624.84 408.67 625.77 406.88 626.03 405.52C626.28 404.15 625.89 403.13 625.52 401.94C625.14 400.75 624.24 399.3 623.78 398.36C623.32 397.43 623.58 396.58 622.76 396.32C621.94 396.06 620.54 396.66 618.87 396.83C617.21 397 614.79 397.26 612.74 397.34C610.7 397.43 608.15 397.34 606.61 397.34C605.08 397.34 604.14 396.75 603.55 397.34C602.95 397.94 603.07 399.56 603.04 400.92C603 402.28 603.09 403.98 603.34 405.52C603.6 407.05 604.16 408.75 604.57 410.12C604.98 411.48 605.71 412.67 605.79 413.69C605.88 414.71 605.62 415.79 605.08 416.25C604.53 416.71 602.87 416.79 602.52 416.45C602.18 416.11 603.04 415.43 603.04 414.2C603.04 412.98 602.78 410.8 602.52 409.09C602.27 407.39 601.76 404.84 601.5 403.98C601.25 403.13 601.16 403.13 600.99 403.98C600.82 404.84 600.65 407.56 600.48 409.09C600.31 410.63 600.23 412.24 599.97 413.18C599.71 414.12 599.54 414.51 598.95 414.71C598.35 414.92 596.65 414.75 596.39 414.41C596.14 414.07 597.11 413.73 597.42 412.67C597.72 411.61 598.1 409.86 598.23 408.07C598.37 406.28 598.37 403.81 598.23 401.94C598.1 400.07 597.81 398.19 597.42 396.83C597.02 395.47 596.48 394.79 595.88 393.77C595.29 392.74 594.3 391.89 593.84 390.7C593.38 389.51 593.41 387.89 593.12 386.61C592.83 385.33 592.49 383.97 592.1 383.04C591.71 382.1 591.17 381.08 590.77 380.99C590.38 380.91 590.18 382.24 589.75 382.52C589.33 382.81 588.68 382.98 588.22 382.73C587.76 382.47 587.25 381.79 586.99 380.99C586.74 380.19 586.91 378.95 586.69 377.93C586.46 376.9 585.89 375.88 585.66 374.86C585.44 373.84 585.24 372.73 585.36 371.8C585.48 370.86 586.33 370.35 586.38 369.24C586.43 368.13 585.61 365.66 585.66 365.15Z"/>
<path transform="translate(0 769.8)" fill="#000" d="M585.66 365.15C585.72 364.64 586.26 365.83 586.69 366.17C587.11 366.52 587.71 367.11 588.22 367.2C588.73 367.28 589.38 367.06 589.75 366.69C590.13 366.31 590.13 364.86 590.47 364.95C590.81 365.03 591.15 366.4 591.8 367.2C592.44 368 593.24 368.64 594.35 369.75C595.46 370.86 596.9 372.48 598.44 373.84C599.97 375.2 602.01 376.9 603.55 377.93C605.08 378.95 605.93 379.54 607.63 379.97C609.34 380.4 611.55 380.48 613.77 380.48C615.98 380.48 618.7 380.06 620.92 379.97C623.13 379.89 625.35 379.63 627.05 379.97C628.75 380.31 630.03 381.08 631.14 382.01C632.24 382.95 632.93 384.31 633.69 385.59C634.46 386.87 635.14 387.97 635.74 389.68C636.33 391.38 636.93 393.77 637.27 395.81C637.61 397.85 637.78 400.32 637.78 401.94C637.78 403.56 637.61 405.35 637.27 405.52C636.93 405.69 636.16 404.41 635.74 402.96C635.31 401.51 635.05 398.87 634.71 396.83C634.37 394.79 634.03 391.38 633.69 390.7C633.35 390.02 633.18 391.98 632.67 392.74C632.16 393.51 631.14 394.45 630.63 395.3C630.12 396.15 629.52 396.83 629.6 397.85C629.69 398.87 630.75 400.49 631.14 401.43C631.53 402.37 631.95 402.37 631.95 403.47C631.95 404.58 631.53 406.54 631.14 408.07C630.75 409.6 629.98 411.56 629.6 412.67C629.23 413.78 629.4 414.42 628.89 414.71C628.38 415 626.67 415 626.54 414.41C626.4 413.81 627.65 412.45 628.07 411.14C628.5 409.83 629.09 407.39 629.09 406.54C629.09 405.69 628.58 405.43 628.07 406.03C627.56 406.62 626.79 408.75 626.03 410.12C625.26 411.48 624.07 413.18 623.47 414.2C622.88 415.22 623.01 415.94 622.45 416.25C621.89 416.55 620.36 416.38 620.1 416.04C619.85 415.7 620.27 415.19 620.92 414.2C621.57 413.21 623.13 411.56 623.98 410.12C624.84 408.67 625.77 406.88 626.03 405.52C626.28 404.15 625.89 403.13 625.52 401.94C625.14 400.75 624.24 399.3 623.78 398.36C623.32 397.43 623.58 396.58 622.76 396.32C621.94 396.06 620.54 396.66 618.87 396.83C617.21 397 614.79 397.26 612.74 397.34C610.7 397.43 608.15 397.34 606.61 397.34C605.08 397.34 604.14 396.75 603.55 397.34C602.95 397.94 603.07 399.56 603.04 400.92C603 402.28 603.09 403.98 603.34 405.52C603.6 407.05 604.16 408.75 604.57 410.12C604.98 411.48 605.71 412.67 605.79 413.69C605.88 414.71 605.62 415.79 605.08 416.25C604.53 416.71 602.87 416.79 602.52 416.45C602.18 416.11 603.04 415.43 603.04 414.2C603.04 412.98 602.78 410.8 602.52 409.09C602.27 407.39 601.76 404.84 601.5 403.98C601.25 403.13 601.16 403.13 600.99 403.98C600.82 404.84 600.65 407.56 600.48 409.09C600.31 410.63 600.23 412.24 599.97 413.18C599.71 414.12 599.54 414.51 598.95 414.71C598.35 414.92 596.65 414.75 596.39 414.41C596.14 414.07 597.11 413.73 597.42 412.67C597.72 411.61 598.1 409.86 598.23 408.07C598.37 406.28 598.37 403.81 598.23 401.94C598.1 400.07 597.81 398.19 597.42 396.83C597.02 395.47 596.48 394.79 595.88 393.77C595.29 392.74 594.3 391.89 593.84 390.7C593.38 389.51 593.41 387.89 593.12 386.61C592.83 385.33 592.49 383.97 592.1 383.04C591.71 382.1 591.17 381.08 590.77 380.99C590.38 380.91 590.18 382.24 589.75 382.52C589.33 382.81 588.68 382.98 588.22 382.73C587.76 382.47 587.25 381.79 586.99 380.99C586.74 380.19 586.91 378.95 586.69 377.93C586.46 376.9 585.89 375.88 585.66 374.86C585.44 373.84 585.24 372.73 585.36 371.8C585.48 370.86 586.33 370.35 586.38 369.24C586.43 368.13 585.61 365.66 585.66 365.15Z"/>
<path d="M134.3 168.3V214.7M134.3 307.5V377.1M118.1 168.3H150.5M118.1 377.1H150.5" fill="none" stroke="#1c1c1c" stroke-width="1.3"/>
<rect x="102.2" y="214.7" width="64.2" height="92.8" fill="#fff" stroke="#1c1c1c" stroke-width="1.3"/>
<path d="M102.2 272.7H166.4" stroke="#000" stroke-width="3.6"/>
<path d="M213.82 156.7V203.1M213.82 301.7V400.3M197.62 156.7H230.02M197.62 400.3H230.02" fill="none" stroke="#1c1c1c" stroke-width="1.3"/>
<rect x="181.72" y="203.1" width="64.2" height="98.6" fill="#fff" stroke="#1c1c1c" stroke-width="1.3"/>
<path d="M181.72 237.9H245.92" stroke="#000" stroke-width="3.6"/>
<path d="M293.34 145.1V191.5M293.34 261.1V353.9M277.14 145.1H309.54M277.14 353.9H309.54" fill="none" stroke="#1c1c1c" stroke-width="1.3"/>
<rect x="261.24" y="191.5" width="64.2" height="69.6" fill="#fff" stroke="#1c1c1c" stroke-width="1.3"/>
<path d="M261.24 249.5H325.44" stroke="#000" stroke-width="3.6"/>
<path d="M372.86 133.5V203.1M372.86 226.3V307.5M356.66 133.5H389.06M356.66 307.5H389.06" fill="none" stroke="#1c1c1c" stroke-width="1.3"/>
<rect x="340.76" y="203.1" width="64.2" height="23.2" fill="#fff" stroke="#1c1c1c" stroke-width="1.3"/>
<path d="M340.76 214.7H404.96" stroke="#000" stroke-width="3.6"/>
<path d="M452.38 237.9V278.5M452.38 336.5V353.9M436.18 237.9H468.58M436.18 353.9H468.58" fill="none" stroke="#1c1c1c" stroke-width="1.3"/>
<rect x="420.28" y="278.5" width="64.2" height="58" fill="#fff" stroke="#1c1c1c" stroke-width="1.3"/>
<path d="M420.28 319.1H484.48" stroke="#000" stroke-width="3.6"/>
<path d="M531.9 295.9V295.9M531.9 319.1V319.1M515.7 295.9H548.1M515.7 319.1H548.1" fill="none" stroke="#1c1c1c" stroke-width="1.3"/>
<rect x="499.8" y="295.9" width="64.2" height="23.2" fill="#fff" stroke="#1c1c1c" stroke-width="1.3"/>
<path d="M499.8 307.5H564" stroke="#000" stroke-width="3.6"/>
<path d="M611.42 40.7V133.5M611.42 237.9V342.3M595.22 40.7H627.62M595.22 342.3H627.62" fill="none" stroke="#1c1c1c" stroke-width="1.3"/>
<rect x="579.32" y="133.5" width="64.2" height="104.4" fill="#fff" stroke="#1c1c1c" stroke-width="1.3"/>
<path d="M579.32 156.7H643.52" stroke="#000" stroke-width="3.6"/>
<rect x="111.4" y="163.2" width="10.2" height="10.2" fill="#008B00" stroke="#fff" stroke-width="1.3"/>
<rect x="111.4" y="174.8" width="10.2" height="10.2" fill="#008B00" stroke="#fff" stroke-width="1.3"/>
<rect x="111.4" y="186.4" width="10.2" height="10.2" fill="#008B00" stroke="#fff" stroke-width="1.3"/>
<rect x="111.4" y="221.2" width="10.2" height="10.2" fill="#008B00" stroke="#fff" stroke-width="1.3"/>
<rect x="123.3" y="267.6" width="10.2" height="10.2" fill="#fff" stroke="#008B00" stroke-width="1.3"/>
<rect x="123.3" y="279.2" width="10.2" height="10.2" fill="#fff" stroke="#008B00" stroke-width="1.3"/>
<rect x="123.3" y="290.8" width="10.2" height="10.2" fill="#fff" stroke="#008B00" stroke-width="1.3"/>
<rect x="123.3" y="302.4" width="10.2" height="10.2" fill="#fff" stroke="#008B00" stroke-width="1.3"/>
<rect x="123.3" y="314" width="10.2" height="10.2" fill="#fff" stroke="#008B00" stroke-width="1.3"/>
<rect x="123.3" y="337.2" width="10.2" height="10.2" fill="#fff" stroke="#008B00" stroke-width="1.3"/>
<rect x="123.3" y="348.8" width="10.2" height="10.2" fill="#fff" stroke="#008B00" stroke-width="1.3"/>
<rect x="123.3" y="372" width="10.2" height="10.2" fill="#fff" stroke="#008B00" stroke-width="1.3"/>
<circle cx="140.3" cy="214.7" r="5.8" fill="#008B00" stroke="#fff" stroke-width="1.3"/>
<circle cx="140.3" cy="226.3" r="5.8" fill="#008B00" stroke="#fff" stroke-width="1.3"/>
<circle cx="140.3" cy="284.3" r="5.8" fill="#008B00" stroke="#fff" stroke-width="1.3"/>
<circle cx="140.3" cy="295.9" r="5.8" fill="#008B00" stroke="#fff" stroke-width="1.3"/>
<circle cx="140.3" cy="307.5" r="5.8" fill="#008B00" stroke="#fff" stroke-width="1.3"/>
<circle cx="140.3" cy="319.1" r="5.8" fill="#008B00" stroke="#fff" stroke-width="1.3"/>
<circle cx="140.3" cy="353.9" r="5.8" fill="#008B00" stroke="#fff" stroke-width="1.3"/>
<circle cx="140.3" cy="365.5" r="5.8" fill="#008B00" stroke="#fff" stroke-width="1.3"/>
<circle cx="152.1" cy="168.3" r="5.8" fill="#fff" stroke="#008B00" stroke-width="1.3"/>
<circle cx="152.1" cy="214.7" r="5.8" fill="#fff" stroke="#008B00" stroke-width="1.3"/>
<circle cx="152.1" cy="226.3" r="5.8" fill="#fff" stroke="#008B00" stroke-width="1.3"/>
<circle cx="152.1" cy="237.9" r="5.8" fill="#fff" stroke="#008B00" stroke-width="1.3"/>
<circle cx="152.1" cy="249.5" r="5.8" fill="#fff" stroke="#008B00" stroke-width="1.3"/>
<circle cx="152.1" cy="272.7" r="5.8" fill="#fff" stroke="#008B00" stroke-width="1.3"/>
<circle cx="152.1" cy="284.3" r="5.8" fill="#fff" stroke="#008B00" stroke-width="1.3"/>
<circle cx="152.1" cy="295.9" r="5.8" fill="#fff" stroke="#008B00" stroke-width="1.3"/>
<circle cx="152.1" cy="330.7" r="5.8" fill="#fff" stroke="#008B00" stroke-width="1.3"/>
<rect x="190.92" y="174.8" width="10.2" height="10.2" fill="#008B00" stroke="#fff" stroke-width="1.3"/>
<rect x="190.92" y="186.4" width="10.2" height="10.2" fill="#008B00" stroke="#fff" stroke-width="1.3"/>
<rect x="190.92" y="198" width="10.2" height="10.2" fill="#008B00" stroke="#fff" stroke-width="1.3"/>
<rect x="190.92" y="209.6" width="10.2" height="10.2" fill="#008B00" stroke="#fff" stroke-width="1.3"/>
<rect x="190.92" y="221.2" width="10.2" height="10.2" fill="#008B00" stroke="#fff" stroke-width="1.3"/>
<rect x="190.92" y="232.8" width="10.2" height="10.2" fill="#008B00" stroke="#fff" stroke-width="1.3"/>
<rect x="202.82" y="209.6" width="10.2" height="10.2" fill="#fff" stroke="#008B00" stroke-width="1.3"/>
<rect x="202.82" y="221.2" width="10.2" height="10.2" fill="#fff" stroke="#008B00" stroke-width="1.3"/>
<rect x="202.82" y="232.8" width="10.2" height="10.2" fill="#fff" stroke="#008B00" stroke-width="1.3"/>
<rect x="202.82" y="244.4" width="10.2" height="10.2" fill="#fff" stroke="#008B00" stroke-width="1.3"/>
<rect x="202.82" y="256" width="10.2" height="10.2" fill="#fff" stroke="#008B00" stroke-width="1.3"/>
<rect x="202.82" y="290.8" width="10.2" height="10.2" fill="#fff" stroke="#008B00" stroke-width="1.3"/>
<rect x="202.82" y="314" width="10.2" height="10.2" fill="#fff" stroke="#008B00" stroke-width="1.3"/>
<rect x="202.82" y="337.2" width="10.2" height="10.2" fill="#fff" stroke="#008B00" stroke-width="1.3"/>
<circle cx="219.82" cy="307.5" r="5.8" fill="#008B00" stroke="#fff" stroke-width="1.3"/>
<circle cx="219.82" cy="319.1" r="5.8" fill="#008B00" stroke="#fff" stroke-width="1.3"/>
<circle cx="219.82" cy="330.7" r="5.8" fill="#008B00" stroke="#fff" stroke-width="1.3"/>
<circle cx="219.82" cy="342.3" r="5.8" fill="#008B00" stroke="#fff" stroke-width="1.3"/>
<circle cx="219.82" cy="353.9" r="5.8" fill="#008B00" stroke="#fff" stroke-width="1.3"/>
<circle cx="219.82" cy="365.5" r="5.8" fill="#008B00" stroke="#fff" stroke-width="1.3"/>
<circle cx="219.82" cy="400.3" r="5.8" fill="#008B00" stroke="#fff" stroke-width="1.3"/>
<circle cx="231.62" cy="156.7" r="5.8" fill="#fff" stroke="#008B00" stroke-width="1.3"/>
<circle cx="231.62" cy="168.3" r="5.8" fill="#fff" stroke="#008B00" stroke-width="1.3"/>
<circle cx="231.62" cy="179.9" r="5.8" fill="#fff" stroke="#008B00" stroke-width="1.3"/>
<circle cx="231.62" cy="191.5" r="5.8" fill="#fff" stroke="#008B00" stroke-width="1.3"/>
<circle cx="231.62" cy="203.1" r="5.8" fill="#fff" stroke="#008B00" stroke-width="1.3"/>
<circle cx="231.62" cy="214.7" r="5.8" fill="#fff" stroke="#008B00" stroke-width="1.3"/>
<circle cx="231.62" cy="226.3" r="5.8" fill="#fff" stroke="#008B00" stroke-width="1.3"/>
<circle cx="231.62" cy="237.9" r="5.8" fill="#fff" stroke="#008B00" stroke-width="1.3"/>
<rect x="280.34" y="163.2" width="10.2" height="10.2" fill="#008B00" stroke="#111" stroke-width="1.3"/>
<rect x="280.34" y="174.8" width="10.2" height="10.2" fill="#008B00" stroke="#111" stroke-width="1.3"/>
<rect x="280.34" y="209.6" width="10.2" height="10.2" fill="#008B00" stroke="#111" stroke-width="1.3"/>
<rect x="280.34" y="244.4" width="10.2" height="10.2" fill="#008B00" stroke="#111" stroke-width="1.3"/>
<rect x="280.34" y="256" width="10.2" height="10.2" fill="#008B00" stroke="#111" stroke-width="1.3"/>
<circle cx="301.24" cy="145.1" r="5.8" fill="#008B00" stroke="#111" stroke-width="1.3"/>
<circle cx="301.24" cy="191.5" r="5.8" fill="#008B00" stroke="#111" stroke-width="1.3"/>
<circle cx="301.24" cy="237.9" r="5.8" fill="#008B00" stroke="#111" stroke-width="1.3"/>
<circle cx="301.24" cy="249.5" r="5.8" fill="#008B00" stroke="#111" stroke-width="1.3"/>
<circle cx="301.24" cy="261.1" r="5.8" fill="#008B00" stroke="#111" stroke-width="1.3"/>
<circle cx="301.24" cy="284.3" r="5.8" fill="#008B00" stroke="#111" stroke-width="1.3"/>
<circle cx="301.24" cy="295.9" r="5.8" fill="#008B00" stroke="#111" stroke-width="1.3"/>
<circle cx="301.24" cy="353.9" r="5.8" fill="#008B00" stroke="#111" stroke-width="1.3"/>
<rect x="359.86" y="128.4" width="10.2" height="10.2" fill="#008B00" stroke="#111" stroke-width="1.3"/>
<rect x="359.86" y="174.8" width="10.2" height="10.2" fill="#008B00" stroke="#111" stroke-width="1.3"/>
<rect x="359.86" y="198" width="10.2" height="10.2" fill="#008B00" stroke="#111" stroke-width="1.3"/>
<rect x="359.86" y="232.8" width="10.2" height="10.2" fill="#008B00" stroke="#111" stroke-width="1.3"/>
<rect x="359.86" y="221.2" width="10.2" height="10.2" fill="#008B00" stroke="#111" stroke-width="1.3"/>
<circle cx="380.76" cy="156.7" r="5.8" fill="#008B00" stroke="#111" stroke-width="1.3"/>
<circle cx="380.76" cy="203.1" r="5.8" fill="#008B00" stroke="#111" stroke-width="1.3"/>
<circle cx="380.76" cy="214.7" r="5.8" fill="#008B00" stroke="#111" stroke-width="1.3"/>
<circle cx="380.76" cy="226.3" r="5.8" fill="#008B00" stroke="#111" stroke-width="1.3"/>
<circle cx="380.76" cy="261.1" r="5.8" fill="#008B00" stroke="#111" stroke-width="1.3"/>
<circle cx="380.76" cy="307.5" r="5.8" fill="#008B00" stroke="#111" stroke-width="1.3"/>
<path d="M452.38 229.75L460.53 237.9L452.38 246.05L444.23 237.9ZM444.23 237.9H460.53M452.38 229.75V246.05" fill="none" stroke-linejoin="round" stroke="#008B00" stroke-width="1.7"/>
<path d="M452.38 310.95L460.53 319.1L452.38 327.25L444.23 319.1ZM444.23 319.1H460.53M452.38 310.95V327.25" fill="none" stroke-linejoin="round" stroke="#008B00" stroke-width="1.7"/>
<path d="M452.38 345.75L460.53 353.9L452.38 362.05L444.23 353.9ZM444.23 353.9H460.53M452.38 345.75V362.05" fill="none" stroke-linejoin="round" stroke="#008B00" stroke-width="1.7"/>
<path d="M525.8 289.8L538 302M525.8 302L538 289.8" fill="none" stroke-linecap="round" stroke="#008B00" stroke-width="1.7"/>
<path d="M525.8 313L538 325.2M525.8 325.2L538 313" fill="none" stroke-linecap="round" stroke="#008B00" stroke-width="1.7"/>
<path d="M611.42 31.8L619.12 45.15L603.72 45.15Z" fill="#008B00"/>
<path d="M611.42 101.4L619.12 114.75L603.72 114.75Z" fill="#008B00"/>
<path d="M611.42 124.6L619.12 137.95L603.72 137.95Z" fill="#008B00"/>
<path d="M611.42 147.8L619.12 161.15L603.72 161.15Z" fill="#008B00"/>
<path d="M611.42 229L619.12 242.35L603.72 242.35Z" fill="#008B00"/>
<path d="M611.42 252.2L619.12 265.55L603.72 265.55Z" fill="#008B00"/>
<path d="M611.42 333.4L619.12 346.75L603.72 346.75Z" fill="#008B00"/>
<path d="M134.3 625.41V698.82M134.3 766.59V840M118.1 625.41H150.5M118.1 840H150.5" fill="none" stroke="#1c1c1c" stroke-width="1.3"/>
<rect x="102.2" y="698.82" width="64.2" height="67.76" fill="#fff" stroke="#1c1c1c" stroke-width="1.3"/>
<path d="M102.2 732.71H166.4" stroke="#000" stroke-width="3.6"/>
<path d="M213.82 676.24V727.06M213.82 794.82V862.59M197.62 676.24H230.02M197.62 862.59H230.02" fill="none" stroke="#1c1c1c" stroke-width="1.3"/>
<rect x="181.72" y="727.06" width="64.2" height="67.76" fill="#fff" stroke="#1c1c1c" stroke-width="1.3"/>
<path d="M181.72 755.29H245.92" stroke="#000" stroke-width="3.6"/>
<path d="M293.34 676.24V721.41M293.34 800.47V845.65M277.14 676.24H309.54M277.14 845.65H309.54" fill="none" stroke="#1c1c1c" stroke-width="1.3"/>
<rect x="261.24" y="721.41" width="64.2" height="79.06" fill="#fff" stroke="#1c1c1c" stroke-width="1.3"/>
<path d="M261.24 766.59H325.44" stroke="#000" stroke-width="3.6"/>
<path d="M372.86 676.24V732.71M372.86 783.53V817.41M356.66 676.24H389.06M356.66 817.41H389.06" fill="none" stroke="#1c1c1c" stroke-width="1.3"/>
<rect x="340.76" y="732.71" width="64.2" height="50.82" fill="#fff" stroke="#1c1c1c" stroke-width="1.3"/>
<path d="M340.76 749.65H404.96" stroke="#000" stroke-width="3.6"/>
<path d="M452.38 540.71V636.71M452.38 783.53V834.35M436.18 540.71H468.58M436.18 834.35H468.58" fill="none" stroke="#1c1c1c" stroke-width="1.3"/>
<rect x="420.28" y="636.71" width="64.2" height="146.82" fill="#fff" stroke="#1c1c1c" stroke-width="1.3"/>
<path d="M420.28 732.71H484.48" stroke="#000" stroke-width="3.6"/>
<path d="M531.9 648V648M531.9 749.65V749.65M515.7 648H548.1M515.7 749.65H548.1" fill="none" stroke="#1c1c1c" stroke-width="1.3"/>
<rect x="499.8" y="648" width="64.2" height="101.65" fill="#fff" stroke="#1c1c1c" stroke-width="1.3"/>
<path d="M499.8 698.82H564" stroke="#000" stroke-width="3.6"/>
<path d="M611.42 478.59V568.94M611.42 631.06V664.94M595.22 478.59H627.62M595.22 664.94H627.62" fill="none" stroke="#1c1c1c" stroke-width="1.3"/>
<rect x="579.32" y="568.94" width="64.2" height="62.12" fill="#fff" stroke="#1c1c1c" stroke-width="1.3"/>
<path d="M579.32 591.53H643.52" stroke="#000" stroke-width="3.6"/>
<rect x="111.4" y="682.43" width="10.2" height="10.2" fill="#0000CD" stroke="#fff" stroke-width="1.3"/>
<rect x="111.4" y="693.72" width="10.2" height="10.2" fill="#0000CD" stroke="#fff" stroke-width="1.3"/>
<rect x="111.4" y="710.66" width="10.2" height="10.2" fill="#0000CD" stroke="#fff" stroke-width="1.3"/>
<rect x="111.4" y="727.61" width="10.2" height="10.2" fill="#0000CD" stroke="#fff" stroke-width="1.3"/>
<rect x="111.4" y="795.37" width="10.2" height="10.2" fill="#0000CD" stroke="#fff" stroke-width="1.3"/>
<rect x="111.4" y="750.19" width="10.2" height="10.2" fill="#0000CD" stroke="#fff" stroke-width="1.3"/>
<rect x="111.4" y="744.55" width="10.2" height="10.2" fill="#0000CD" stroke="#fff" stroke-width="1.3"/>
<rect x="111.4" y="738.9" width="10.2" height="10.2" fill="#0000CD" stroke="#fff" stroke-width="1.3"/>
<rect x="123.3" y="620.31" width="10.2" height="10.2" fill="#fff" stroke="#0000CD" stroke-width="1.3"/>
<rect x="123.3" y="682.43" width="10.2" height="10.2" fill="#fff" stroke="#0000CD" stroke-width="1.3"/>
<rect x="123.3" y="699.37" width="10.2" height="10.2" fill="#fff" stroke="#0000CD" stroke-width="1.3"/>
<rect x="123.3" y="710.66" width="10.2" height="10.2" fill="#fff" stroke="#0000CD" stroke-width="1.3"/>
<rect x="123.3" y="750.19" width="10.2" height="10.2" fill="#fff" stroke="#0000CD" stroke-width="1.3"/>
<rect x="123.3" y="738.9" width="10.2" height="10.2" fill="#fff" stroke="#0000CD" stroke-width="1.3"/>
<rect x="123.3" y="755.84" width="10.2" height="10.2" fill="#fff" stroke="#0000CD" stroke-width="1.3"/>
<rect x="123.3" y="772.78" width="10.2" height="10.2" fill="#fff" stroke="#0000CD" stroke-width="1.3"/>
<rect x="123.3" y="795.37" width="10.2" height="10.2" fill="#fff" stroke="#0000CD" stroke-width="1.3"/>
<rect x="123.3" y="801.02" width="10.2" height="10.2" fill="#fff" stroke="#0000CD" stroke-width="1.3"/>
<rect x="123.3" y="834.9" width="10.2" height="10.2" fill="#fff" stroke="#0000CD" stroke-width="1.3"/>
<circle cx="140.3" cy="631.06" r="5.8" fill="#0000CD" stroke="#fff" stroke-width="1.3"/>
<circle cx="140.3" cy="648" r="5.8" fill="#0000CD" stroke="#fff" stroke-width="1.3"/>
<circle cx="140.3" cy="664.94" r="5.8" fill="#0000CD" stroke="#fff" stroke-width="1.3"/>
<circle cx="140.3" cy="687.53" r="5.8" fill="#0000CD" stroke="#fff" stroke-width="1.3"/>
<circle cx="140.3" cy="721.41" r="5.8" fill="#0000CD" stroke="#fff" stroke-width="1.3"/>
<circle cx="140.3" cy="732.71" r="5.8" fill="#0000CD" stroke="#fff" stroke-width="1.3"/>
<circle cx="140.3" cy="766.59" r="5.8" fill="#0000CD" stroke="#fff" stroke-width="1.3"/>
<circle cx="140.3" cy="760.94" r="5.8" fill="#0000CD" stroke="#fff" stroke-width="1.3"/>
<circle cx="140.3" cy="789.18" r="5.8" fill="#0000CD" stroke="#fff" stroke-width="1.3"/>
<circle cx="152.1" cy="636.71" r="5.8" fill="#fff" stroke="#0000CD" stroke-width="1.3"/>
<circle cx="152.1" cy="648" r="5.8" fill="#fff" stroke="#0000CD" stroke-width="1.3"/>
<circle cx="152.1" cy="676.24" r="5.8" fill="#fff" stroke="#0000CD" stroke-width="1.3"/>
<circle cx="152.1" cy="715.76" r="5.8" fill="#fff" stroke="#0000CD" stroke-width="1.3"/>
<circle cx="152.1" cy="710.12" r="5.8" fill="#fff" stroke="#0000CD" stroke-width="1.3"/>
<circle cx="152.1" cy="721.41" r="5.8" fill="#fff" stroke="#0000CD" stroke-width="1.3"/>
<circle cx="152.1" cy="732.71" r="5.8" fill="#fff" stroke="#0000CD" stroke-width="1.3"/>
<circle cx="152.1" cy="766.59" r="5.8" fill="#fff" stroke="#0000CD" stroke-width="1.3"/>
<circle cx="152.1" cy="789.18" r="5.8" fill="#fff" stroke="#0000CD" stroke-width="1.3"/>
<circle cx="152.1" cy="800.47" r="5.8" fill="#fff" stroke="#0000CD" stroke-width="1.3"/>
<circle cx="152.1" cy="806.12" r="5.8" fill="#fff" stroke="#0000CD" stroke-width="1.3"/>
<circle cx="152.1" cy="828.7" r="5.8" fill="#fff" stroke="#0000CD" stroke-width="1.3"/>
<rect x="190.92" y="699.37" width="10.2" height="10.2" fill="#0000CD" stroke="#fff" stroke-width="1.3"/>
<rect x="190.92" y="693.72" width="10.2" height="10.2" fill="#0000CD" stroke="#fff" stroke-width="1.3"/>
<rect x="190.92" y="710.66" width="10.2" height="10.2" fill="#0000CD" stroke="#fff" stroke-width="1.3"/>
<rect x="190.92" y="721.96" width="10.2" height="10.2" fill="#0000CD" stroke="#fff" stroke-width="1.3"/>
<rect x="190.92" y="733.25" width="10.2" height="10.2" fill="#0000CD" stroke="#fff" stroke-width="1.3"/>
<rect x="190.92" y="755.84" width="10.2" height="10.2" fill="#0000CD" stroke="#fff" stroke-width="1.3"/>
<rect x="190.92" y="772.78" width="10.2" height="10.2" fill="#0000CD" stroke="#fff" stroke-width="1.3"/>
<rect x="190.92" y="823.6" width="10.2" height="10.2" fill="#0000CD" stroke="#fff" stroke-width="1.3"/>
<rect x="202.82" y="682.43" width="10.2" height="10.2" fill="#fff" stroke="#0000CD" stroke-width="1.3"/>
<rect x="202.82" y="693.72" width="10.2" height="10.2" fill="#fff" stroke="#0000CD" stroke-width="1.3"/>
<rect x="202.82" y="721.96" width="10.2" height="10.2" fill="#fff" stroke="#0000CD" stroke-width="1.3"/>
<rect x="202.82" y="750.19" width="10.2" height="10.2" fill="#fff" stroke="#0000CD" stroke-width="1.3"/>
<rect x="202.82" y="738.9" width="10.2" height="10.2" fill="#fff" stroke="#0000CD" stroke-width="1.3"/>
<rect x="202.82" y="755.84" width="10.2" height="10.2" fill="#fff" stroke="#0000CD" stroke-width="1.3"/>
<rect x="202.82" y="767.13" width="10.2" height="10.2" fill="#fff" stroke="#0000CD" stroke-width="1.3"/>
<rect x="202.82" y="778.43" width="10.2" height="10.2" fill="#fff" stroke="#0000CD" stroke-width="1.3"/>
<rect x="202.82" y="789.72" width="10.2" height="10.2" fill="#fff" stroke="#0000CD" stroke-width="1.3"/>
<rect x="202.82" y="801.02" width="10.2" height="10.2" fill="#fff" stroke="#0000CD" stroke-width="1.3"/>
<rect x="202.82" y="857.49" width="10.2" height="10.2" fill="#fff" stroke="#0000CD" stroke-width="1.3"/>
<circle cx="219.82" cy="676.24" r="5.8" fill="#0000CD" stroke="#fff" stroke-width="1.3"/>
<circle cx="219.82" cy="698.82" r="5.8" fill="#0000CD" stroke="#fff" stroke-width="1.3"/>
<circle cx="219.82" cy="704.47" r="5.8" fill="#0000CD" stroke="#fff" stroke-width="1.3"/>
<circle cx="219.82" cy="727.06" r="5.8" fill="#0000CD" stroke="#fff" stroke-width="1.3"/>
<circle cx="219.82" cy="744" r="5.8" fill="#0000CD" stroke="#fff" stroke-width="1.3"/>
<circle cx="219.82" cy="755.29" r="5.8" fill="#0000CD" stroke="#fff" stroke-width="1.3"/>
<circle cx="219.82" cy="766.59" r="5.8" fill="#0000CD" stroke="#fff" stroke-width="1.3"/>
<circle cx="219.82" cy="800.47" r="5.8" fill="#0000CD" stroke="#fff" stroke-width="1.3"/>
<circle cx="219.82" cy="794.82" r="5.8" fill="#0000CD" stroke="#fff" stroke-width="1.3"/>
<circle cx="219.82" cy="845.65" r="5.8" fill="#0000CD" stroke="#fff" stroke-width="1.3"/>
<circle cx="231.62" cy="710.12" r="5.8" fill="#fff" stroke="#0000CD" stroke-width="1.3"/>
<circle cx="231.62" cy="715.76" r="5.8" fill="#fff" stroke="#0000CD" stroke-width="1.3"/>
<circle cx="231.62" cy="721.41" r="5.8" fill="#fff" stroke="#0000CD" stroke-width="1.3"/>
<circle cx="231.62" cy="732.71" r="5.8" fill="#fff" stroke="#0000CD" stroke-width="1.3"/>
<circle cx="231.62" cy="749.65" r="5.8" fill="#fff" stroke="#0000CD" stroke-width="1.3"/>
<circle cx="231.62" cy="766.59" r="5.8" fill="#fff" stroke="#0000CD" stroke-width="1.3"/>
<circle cx="231.62" cy="760.94" r="5.8" fill="#fff" stroke="#0000CD" stroke-width="1.3"/>
<circle cx="231.62" cy="811.76" r="5.8" fill="#fff" stroke="#0000CD" stroke-width="1.3"/>
<circle cx="231.62" cy="828.7" r="5.8" fill="#fff" stroke="#0000CD" stroke-width="1.3"/>
<circle cx="231.62" cy="823.06" r="5.8" fill="#fff" stroke="#0000CD" stroke-width="1.3"/>
<circle cx="231.62" cy="817.41" r="5.8" fill="#fff" stroke="#0000CD" stroke-width="1.3"/>
<rect x="280.34" y="716.31" width="10.2" height="10.2" fill="#0000CD" stroke="#111" stroke-width="1.3"/>
<rect x="280.34" y="772.78" width="10.2" height="10.2" fill="#0000CD" stroke="#111" stroke-width="1.3"/>
<rect x="280.34" y="834.9" width="10.2" height="10.2" fill="#0000CD" stroke="#111" stroke-width="1.3"/>
<rect x="280.34" y="840.55" width="10.2" height="10.2" fill="#0000CD" stroke="#111" stroke-width="1.3"/>
<circle cx="301.24" cy="676.24" r="5.8" fill="#0000CD" stroke="#111" stroke-width="1.3"/>
<circle cx="301.24" cy="698.82" r="5.8" fill="#0000CD" stroke="#111" stroke-width="1.3"/>
<circle cx="301.24" cy="721.41" r="5.8" fill="#0000CD" stroke="#111" stroke-width="1.3"/>
<circle cx="301.24" cy="760.94" r="5.8" fill="#0000CD" stroke="#111" stroke-width="1.3"/>
<circle cx="301.24" cy="766.59" r="5.8" fill="#0000CD" stroke="#111" stroke-width="1.3"/>
<circle cx="301.24" cy="800.47" r="5.8" fill="#0000CD" stroke="#111" stroke-width="1.3"/>
<circle cx="301.24" cy="817.41" r="5.8" fill="#0000CD" stroke="#111" stroke-width="1.3"/>
<rect x="359.86" y="705.02" width="10.2" height="10.2" fill="#0000CD" stroke="#111" stroke-width="1.3"/>
<rect x="359.86" y="716.31" width="10.2" height="10.2" fill="#0000CD" stroke="#111" stroke-width="1.3"/>
<rect x="359.86" y="733.25" width="10.2" height="10.2" fill="#0000CD" stroke="#111" stroke-width="1.3"/>
<rect x="359.86" y="789.72" width="10.2" height="10.2" fill="#0000CD" stroke="#111" stroke-width="1.3"/>
<rect x="359.86" y="812.31" width="10.2" height="10.2" fill="#0000CD" stroke="#111" stroke-width="1.3"/>
<circle cx="380.76" cy="676.24" r="5.8" fill="#0000CD" stroke="#111" stroke-width="1.3"/>
<circle cx="380.76" cy="732.71" r="5.8" fill="#0000CD" stroke="#111" stroke-width="1.3"/>
<circle cx="380.76" cy="749.65" r="5.8" fill="#0000CD" stroke="#111" stroke-width="1.3"/>
<circle cx="380.76" cy="744" r="5.8" fill="#0000CD" stroke="#111" stroke-width="1.3"/>
<circle cx="380.76" cy="777.88" r="5.8" fill="#0000CD" stroke="#111" stroke-width="1.3"/>
<circle cx="380.76" cy="783.53" r="5.8" fill="#0000CD" stroke="#111" stroke-width="1.3"/>
<circle cx="380.76" cy="800.47" r="5.8" fill="#0000CD" stroke="#111" stroke-width="1.3"/>
<path d="M452.38 532.81L460.28 540.71L452.38 548.61L444.48 540.71ZM444.48 540.71H460.28M452.38 532.81V548.61" fill="none" stroke-linejoin="round" stroke="#0000CD" stroke-width="1.15"/>
<path d="M452.38 724.81L460.28 732.71L452.38 740.61L444.48 732.71ZM444.48 732.71H460.28M452.38 724.81V740.61" fill="none" stroke-linejoin="round" stroke="#0000CD" stroke-width="1.15"/>
<path d="M452.38 826.45L460.28 834.35L452.38 842.25L444.48 834.35ZM444.48 834.35H460.28M452.38 826.45V842.25" fill="none" stroke-linejoin="round" stroke="#0000CD" stroke-width="1.15"/>
<path d="M526.15 642.25L537.65 653.75M526.15 653.75L537.65 642.25" fill="none" stroke-linecap="round" stroke="#0000CD" stroke-width="1.15"/>
<path d="M526.15 743.9L537.65 755.4M526.15 755.4L537.65 743.9" fill="none" stroke-linecap="round" stroke="#0000CD" stroke-width="1.15"/>
<path d="M611.42 469.69L619.12 483.04L603.72 483.04Z" fill="#0000CD"/>
<path d="M611.42 548.75L619.12 562.1L603.72 562.1Z" fill="#0000CD"/>
<path d="M611.42 560.04L619.12 573.39L603.72 573.39Z" fill="#0000CD"/>
<path d="M611.42 565.69L619.12 579.04L603.72 579.04Z" fill="#0000CD"/>
<path d="M611.42 582.63L619.12 595.98L603.72 595.98Z" fill="#0000CD"/>
<path d="M611.42 593.93L619.12 607.28L603.72 607.28Z" fill="#0000CD"/>
<path d="M611.42 622.16L619.12 635.51L603.72 635.51Z" fill="#0000CD"/>
<path d="M611.42 639.1L619.12 652.45L603.72 652.45Z" fill="#0000CD"/>
<path d="M611.42 656.04L619.12 669.39L603.72 669.39Z" fill="#0000CD"/>
<path d="M134.3 1138.88V1173.45M134.3 1203.71V1259.9M118.1 1138.88H150.5M118.1 1259.9H150.5" fill="none" stroke="#1c1c1c" stroke-width="1.3"/>
<rect x="102.2" y="1173.45" width="64.2" height="30.26" fill="#fff" stroke="#1c1c1c" stroke-width="1.3"/>
<path d="M102.2 1190.74H166.4" stroke="#000" stroke-width="3.6"/>
<path d="M134.3 1112.94V1285.84M128.3 1112.94H140.9M128.3 1285.84H140.9" fill="none" stroke="#1c1c1c" stroke-width="1.5" stroke-dasharray="2 2.6"/>
<path d="M213.82 1147.52V1182.1M213.82 1216.68V1251.26M197.62 1147.52H230.02M197.62 1251.26H230.02" fill="none" stroke="#1c1c1c" stroke-width="1.3"/>
<rect x="181.72" y="1182.1" width="64.2" height="34.58" fill="#fff" stroke="#1c1c1c" stroke-width="1.3"/>
<path d="M181.72 1208.03H245.92" stroke="#000" stroke-width="3.6"/>
<path d="M213.82 1121.59V1277.19M207.82 1121.59H220.42M207.82 1277.19H220.42" fill="none" stroke="#1c1c1c" stroke-width="1.5" stroke-dasharray="2 2.6"/>
<path d="M293.34 1147.52V1164.81M293.34 1216.68V1242.62M277.14 1147.52H309.54M277.14 1242.62H309.54" fill="none" stroke="#1c1c1c" stroke-width="1.3"/>
<rect x="261.24" y="1164.81" width="64.2" height="51.87" fill="#fff" stroke="#1c1c1c" stroke-width="1.3"/>
<path d="M261.24 1199.39H325.44" stroke="#000" stroke-width="3.6"/>
<path d="M293.34 1121.59V1268.55M287.34 1121.59H299.94M287.34 1268.55H299.94" fill="none" stroke="#1c1c1c" stroke-width="1.5" stroke-dasharray="2 2.6"/>
<path d="M372.86 1147.52V1182.1M372.86 1216.68V1233.97M356.66 1147.52H389.06M356.66 1233.97H389.06" fill="none" stroke="#1c1c1c" stroke-width="1.3"/>
<rect x="340.76" y="1182.1" width="64.2" height="34.58" fill="#fff" stroke="#1c1c1c" stroke-width="1.3"/>
<path d="M340.76 1199.39H404.96" stroke="#000" stroke-width="3.6"/>
<path d="M372.86 1121.59V1259.9M366.86 1121.59H379.46M366.86 1259.9H379.46" fill="none" stroke="#1c1c1c" stroke-width="1.5" stroke-dasharray="2 2.6"/>
<path d="M452.38 1112.94V1125.91M452.38 1151.84V1164.81M436.18 1112.94H468.58M436.18 1164.81H468.58" fill="none" stroke="#1c1c1c" stroke-width="1.3"/>
<rect x="420.28" y="1125.91" width="64.2" height="25.93" fill="#fff" stroke="#1c1c1c" stroke-width="1.3"/>
<path d="M420.28 1138.88H484.48" stroke="#000" stroke-width="3.6"/>
<path d="M452.38 1087.01V1190.74M446.38 1087.01H458.98M446.38 1190.74H458.98" fill="none" stroke="#1c1c1c" stroke-width="1.5" stroke-dasharray="2 2.6"/>
<path d="M531.9 991.91V991.91M531.9 1000.55V1000.55M515.7 991.91H548.1M515.7 1000.55H548.1" fill="none" stroke="#1c1c1c" stroke-width="1.3"/>
<rect x="499.8" y="991.91" width="64.2" height="8.64" fill="#fff" stroke="#1c1c1c" stroke-width="1.3"/>
<path d="M499.8 996.23H564" stroke="#000" stroke-width="3.6"/>
<path d="M531.9 965.98V1026.49M525.9 965.98H538.5M525.9 1026.49H538.5" fill="none" stroke="#1c1c1c" stroke-width="1.5" stroke-dasharray="2 2.6"/>
<path d="M611.42 940.04V974.62M611.42 1052.42V1104.3M595.22 940.04H627.62M595.22 1104.3H627.62" fill="none" stroke="#1c1c1c" stroke-width="1.3"/>
<rect x="579.32" y="974.62" width="64.2" height="77.8" fill="#fff" stroke="#1c1c1c" stroke-width="1.3"/>
<path d="M579.32 1000.55H643.52" stroke="#000" stroke-width="3.6"/>
<path d="M611.42 914.11V1130.23M605.42 914.11H618.02M605.42 1130.23H618.02" fill="none" stroke="#1c1c1c" stroke-width="1.5" stroke-dasharray="2 2.6"/>
<rect x="111.4" y="1202.93" width="10.2" height="10.2" fill="#FF8C00" stroke="#fff" stroke-width="1.3"/>
<rect x="111.4" y="1211.58" width="10.2" height="10.2" fill="#FF8C00" stroke="#fff" stroke-width="1.3"/>
<rect x="111.4" y="1194.29" width="10.2" height="10.2" fill="#FF8C00" stroke="#fff" stroke-width="1.3"/>
<rect x="111.4" y="1177" width="10.2" height="10.2" fill="#FF8C00" stroke="#fff" stroke-width="1.3"/>
<rect x="111.4" y="1185.64" width="10.2" height="10.2" fill="#FF8C00" stroke="#fff" stroke-width="1.3"/>
<rect x="123.3" y="1177" width="10.2" height="10.2" fill="#fff" stroke="#FF8C00" stroke-width="1.3"/>
<rect x="123.3" y="1168.36" width="10.2" height="10.2" fill="#fff" stroke="#FF8C00" stroke-width="1.3"/>
<rect x="123.3" y="1185.64" width="10.2" height="10.2" fill="#fff" stroke="#FF8C00" stroke-width="1.3"/>
<rect x="123.3" y="1194.29" width="10.2" height="10.2" fill="#fff" stroke="#FF8C00" stroke-width="1.3"/>
<rect x="123.3" y="1202.93" width="10.2" height="10.2" fill="#fff" stroke="#FF8C00" stroke-width="1.3"/>
<circle cx="140.3" cy="1216.68" r="5.8" fill="#FF8C00" stroke="#fff" stroke-width="1.3"/>
<circle cx="140.3" cy="1208.03" r="5.8" fill="#FF8C00" stroke="#fff" stroke-width="1.3"/>
<circle cx="140.3" cy="1233.97" r="5.8" fill="#FF8C00" stroke="#fff" stroke-width="1.3"/>
<circle cx="140.3" cy="1259.9" r="5.8" fill="#FF8C00" stroke="#fff" stroke-width="1.3"/>
<circle cx="140.3" cy="1251.26" r="5.8" fill="#FF8C00" stroke="#fff" stroke-width="1.3"/>
<circle cx="140.3" cy="1242.62" r="5.8" fill="#FF8C00" stroke="#fff" stroke-width="1.3"/>
<circle cx="140.3" cy="1303.13" r="5.8" fill="#FF8C00" stroke="#fff" stroke-width="1.3"/>
<circle cx="152.1" cy="1138.88" r="5.8" fill="#fff" stroke="#FF8C00" stroke-width="1.3"/>
<circle cx="152.1" cy="1173.45" r="5.8" fill="#fff" stroke="#FF8C00" stroke-width="1.3"/>
<circle cx="152.1" cy="1164.81" r="5.8" fill="#fff" stroke="#FF8C00" stroke-width="1.3"/>
<circle cx="152.1" cy="1182.1" r="5.8" fill="#fff" stroke="#FF8C00" stroke-width="1.3"/>
<circle cx="152.1" cy="1199.39" r="5.8" fill="#fff" stroke="#FF8C00" stroke-width="1.3"/>
<rect x="190.92" y="1185.64" width="10.2" height="10.2" fill="#FF8C00" stroke="#fff" stroke-width="1.3"/>
<rect x="190.92" y="1177" width="10.2" height="10.2" fill="#FF8C00" stroke="#fff" stroke-width="1.3"/>
<rect x="190.92" y="1194.29" width="10.2" height="10.2" fill="#FF8C00" stroke="#fff" stroke-width="1.3"/>
<rect x="190.92" y="1211.58" width="10.2" height="10.2" fill="#FF8C00" stroke="#fff" stroke-width="1.3"/>
<rect x="190.92" y="1202.93" width="10.2" height="10.2" fill="#FF8C00" stroke="#fff" stroke-width="1.3"/>
<rect x="202.82" y="1194.29" width="10.2" height="10.2" fill="#fff" stroke="#FF8C00" stroke-width="1.3"/>
<rect x="202.82" y="1228.87" width="10.2" height="10.2" fill="#fff" stroke="#FF8C00" stroke-width="1.3"/>
<rect x="202.82" y="1220.23" width="10.2" height="10.2" fill="#fff" stroke="#FF8C00" stroke-width="1.3"/>
<rect x="202.82" y="1211.58" width="10.2" height="10.2" fill="#fff" stroke="#FF8C00" stroke-width="1.3"/>
<rect x="202.82" y="1202.93" width="10.2" height="10.2" fill="#fff" stroke="#FF8C00" stroke-width="1.3"/>
<rect x="202.82" y="1246.16" width="10.2" height="10.2" fill="#fff" stroke="#FF8C00" stroke-width="1.3"/>
<circle cx="219.82" cy="1199.39" r="5.8" fill="#FF8C00" stroke="#fff" stroke-width="1.3"/>
<circle cx="219.82" cy="1190.74" r="5.8" fill="#FF8C00" stroke="#fff" stroke-width="1.3"/>
<circle cx="219.82" cy="1208.03" r="5.8" fill="#FF8C00" stroke="#fff" stroke-width="1.3"/>
<circle cx="219.82" cy="1225.33" r="5.8" fill="#FF8C00" stroke="#fff" stroke-width="1.3"/>
<circle cx="219.82" cy="1216.68" r="5.8" fill="#FF8C00" stroke="#fff" stroke-width="1.3"/>
<circle cx="219.82" cy="1233.97" r="5.8" fill="#FF8C00" stroke="#fff" stroke-width="1.3"/>
<circle cx="231.62" cy="1182.1" r="5.8" fill="#fff" stroke="#FF8C00" stroke-width="1.3"/>
<circle cx="231.62" cy="1173.45" r="5.8" fill="#fff" stroke="#FF8C00" stroke-width="1.3"/>
<circle cx="231.62" cy="1164.81" r="5.8" fill="#fff" stroke="#FF8C00" stroke-width="1.3"/>
<circle cx="231.62" cy="1147.52" r="5.8" fill="#fff" stroke="#FF8C00" stroke-width="1.3"/>
<circle cx="231.62" cy="1156.16" r="5.8" fill="#fff" stroke="#FF8C00" stroke-width="1.3"/>
<circle cx="231.62" cy="1190.74" r="5.8" fill="#fff" stroke="#FF8C00" stroke-width="1.3"/>
<rect x="280.34" y="1142.42" width="10.2" height="10.2" fill="#FF8C00" stroke="#111" stroke-width="1.3"/>
<rect x="280.34" y="1177" width="10.2" height="10.2" fill="#FF8C00" stroke="#111" stroke-width="1.3"/>
<rect x="280.34" y="1194.29" width="10.2" height="10.2" fill="#FF8C00" stroke="#111" stroke-width="1.3"/>
<rect x="280.34" y="1237.52" width="10.2" height="10.2" fill="#FF8C00" stroke="#111" stroke-width="1.3"/>
<circle cx="301.24" cy="1147.52" r="5.8" fill="#FF8C00" stroke="#111" stroke-width="1.3"/>
<circle cx="301.24" cy="1164.81" r="5.8" fill="#FF8C00" stroke="#111" stroke-width="1.3"/>
<circle cx="301.24" cy="1208.03" r="5.8" fill="#FF8C00" stroke="#111" stroke-width="1.3"/>
<circle cx="301.24" cy="1199.39" r="5.8" fill="#FF8C00" stroke="#111" stroke-width="1.3"/>
<circle cx="301.24" cy="1216.68" r="5.8" fill="#FF8C00" stroke="#111" stroke-width="1.3"/>
<circle cx="301.24" cy="1233.97" r="5.8" fill="#FF8C00" stroke="#111" stroke-width="1.3"/>
<circle cx="301.24" cy="1242.62" r="5.8" fill="#FF8C00" stroke="#111" stroke-width="1.3"/>
<rect x="359.86" y="1142.42" width="10.2" height="10.2" fill="#FF8C00" stroke="#111" stroke-width="1.3"/>
<rect x="359.86" y="1185.64" width="10.2" height="10.2" fill="#FF8C00" stroke="#111" stroke-width="1.3"/>
<rect x="359.86" y="1211.58" width="10.2" height="10.2" fill="#FF8C00" stroke="#111" stroke-width="1.3"/>
<rect x="359.86" y="1220.23" width="10.2" height="10.2" fill="#FF8C00" stroke="#111" stroke-width="1.3"/>
<rect x="359.86" y="1228.87" width="10.2" height="10.2" fill="#FF8C00" stroke="#111" stroke-width="1.3"/>
<circle cx="380.76" cy="1156.16" r="5.8" fill="#FF8C00" stroke="#111" stroke-width="1.3"/>
<circle cx="380.76" cy="1173.45" r="5.8" fill="#FF8C00" stroke="#111" stroke-width="1.3"/>
<circle cx="380.76" cy="1182.1" r="5.8" fill="#FF8C00" stroke="#111" stroke-width="1.3"/>
<circle cx="380.76" cy="1199.39" r="5.8" fill="#FF8C00" stroke="#111" stroke-width="1.3"/>
<circle cx="380.76" cy="1216.68" r="5.8" fill="#FF8C00" stroke="#111" stroke-width="1.3"/>
<circle cx="380.76" cy="1233.97" r="5.8" fill="#FF8C00" stroke="#111" stroke-width="1.3"/>
<path d="M452.38 1104.79L460.53 1112.94L452.38 1121.09L444.23 1112.94ZM444.23 1112.94H460.53M452.38 1104.79V1121.09" fill="none" stroke-linejoin="round" stroke="#FF8C00" stroke-width="1.7"/>
<path d="M452.38 1130.72L460.53 1138.88L452.38 1147.03L444.23 1138.88ZM444.23 1138.88H460.53M452.38 1130.72V1147.03" fill="none" stroke-linejoin="round" stroke="#FF8C00" stroke-width="1.7"/>
<path d="M452.38 1156.66L460.53 1164.81L452.38 1172.96L444.23 1164.81ZM444.23 1164.81H460.53M452.38 1156.66V1172.96" fill="none" stroke-linejoin="round" stroke="#FF8C00" stroke-width="1.7"/>
<path d="M525.8 985.81L538 998.01M525.8 998.01L538 985.81" fill="none" stroke-linecap="round" stroke="#FF8C00" stroke-width="1.7"/>
<path d="M525.8 994.45L538 1006.65M525.8 1006.65L538 994.45" fill="none" stroke-linecap="round" stroke="#FF8C00" stroke-width="1.7"/>
<path d="M611.42 931.14L619.12 944.49L603.72 944.49Z" fill="#FF8C00"/>
<path d="M611.42 948.43L619.12 961.78L603.72 961.78Z" fill="#FF8C00"/>
<path d="M611.42 965.72L619.12 979.07L603.72 979.07Z" fill="#FF8C00"/>
<path d="M611.42 991.65L619.12 1005L603.72 1005Z" fill="#FF8C00"/>
<path d="M611.42 1008.95L619.12 1022.3L603.72 1022.3Z" fill="#FF8C00"/>
<path d="M611.42 1043.52L619.12 1056.88L603.72 1056.88Z" fill="#FF8C00"/>
<path d="M611.42 1060.81L619.12 1074.16L603.72 1074.16Z" fill="#FF8C00"/>
<path d="M611.42 1095.39L619.12 1108.75L603.72 1108.75Z" fill="#FF8C00"/>
<rect x="72.45" y="0.75" width="601.15" height="1317.25" fill="none" stroke="#1c1c1c" stroke-width="1.3"/>
<path d="M72.45 440H673.6M72.45 879H673.6" stroke="#1c1c1c" stroke-width="1.3"/>
<path d="M72.45 52.3H64.25M72.45 110.3H64.25M72.45 168.3H64.25M72.45 226.3H64.25M72.45 284.3H64.25M72.45 342.3H64.25M72.45 400.3H64.25M72.45 461.65H64.25M72.45 518.12H64.25M72.45 574.59H64.25M72.45 631.06H64.25M72.45 687.53H64.25M72.45 744H64.25M72.45 800.47H64.25M72.45 856.94H64.25M72.45 922.75H64.25M72.45 1009.2H64.25M72.45 1095.65H64.25M72.45 1182.1H64.25M72.45 1268.55H64.25M134.3 1318V1325.5M213.82 1318V1325.5M293.34 1318V1325.5M372.86 1318V1325.5M452.38 1318V1325.5M531.9 1318V1325.5M611.42 1318V1325.5" stroke="#1c1c1c" stroke-width="1.3" fill="none"/>
<g opacity="0.999">
<text x="150.2" y="1305.9" font-size="22" text-anchor="middle" font-weight="normal" font-style="normal" >*</text>
<text transform="translate(54.3 51.8) rotate(-90)" font-size="15.3" text-anchor="middle" font-weight="normal">-7.0</text>
<text transform="translate(54.3 109.8) rotate(-90)" font-size="15.3" text-anchor="middle" font-weight="normal">-7.5</text>
<text transform="translate(54.3 167.8) rotate(-90)" font-size="15.3" text-anchor="middle" font-weight="normal">-8.0</text>
<text transform="translate(54.3 225.8) rotate(-90)" font-size="15.3" text-anchor="middle" font-weight="normal">-8.5</text>
<text transform="translate(54.3 283.8) rotate(-90)" font-size="15.3" text-anchor="middle" font-weight="normal">-9.0</text>
<text transform="translate(54.3 341.8) rotate(-90)" font-size="15.3" text-anchor="middle" font-weight="normal">-9.5</text>
<text transform="translate(54.3 399.8) rotate(-90)" font-size="15.3" text-anchor="middle" font-weight="normal">-10.0</text>
<text transform="translate(54.3 456) rotate(-90)" font-size="15.3" text-anchor="middle" font-weight="normal">-1.0</text>
<text transform="translate(54.3 513.25) rotate(-90)" font-size="15.3" text-anchor="middle" font-weight="normal">-2.0</text>
<text transform="translate(54.3 570.5) rotate(-90)" font-size="15.3" text-anchor="middle" font-weight="normal">-3.0</text>
<text transform="translate(54.3 627.75) rotate(-90)" font-size="15.3" text-anchor="middle" font-weight="normal">-4.0</text>
<text transform="translate(54.3 685) rotate(-90)" font-size="15.3" text-anchor="middle" font-weight="normal">-5.0</text>
<text transform="translate(54.3 742.25) rotate(-90)" font-size="15.3" text-anchor="middle" font-weight="normal">-6.0</text>
<text transform="translate(54.3 799.5) rotate(-90)" font-size="15.3" text-anchor="middle" font-weight="normal">-7.0</text>
<text transform="translate(54.3 856.75) rotate(-90)" font-size="15.3" text-anchor="middle" font-weight="normal">-8.0</text>
<text transform="translate(54.3 922.75) rotate(-90)" font-size="15.3" text-anchor="middle" font-weight="normal">0.70900</text>
<text transform="translate(54.3 1009.2) rotate(-90)" font-size="15.3" text-anchor="middle" font-weight="normal">0.70890</text>
<text transform="translate(54.3 1095.65) rotate(-90)" font-size="15.3" text-anchor="middle" font-weight="normal">0.70880</text>
<text transform="translate(54.3 1182.1) rotate(-90)" font-size="15.3" text-anchor="middle" font-weight="normal">0.70870</text>
<text transform="translate(54.3 1268.55) rotate(-90)" font-size="15.3" text-anchor="middle" font-weight="normal">0.70860</text>
<text x="83.9" y="31.3" font-size="22.4" text-anchor="start" font-weight="bold" font-style="normal" >A</text>
<text x="142.4" y="23.6" font-size="13" text-anchor="start" font-weight="normal" font-style="normal" >K-W: &#967;<tspan dx="0.6" dy="-6.6" font-size="10.5">2</tspan><tspan dy="6.6"> = 7.5, </tspan><tspan font-style="italic">p</tspan> = 0.057</text>
<text x="83.9" y="469.7" font-size="22.4" text-anchor="start" font-weight="bold" font-style="normal" >B</text>
<text x="142.4" y="461.8" font-size="13" text-anchor="start" font-weight="normal" font-style="normal" >K-W: &#967;<tspan dx="0.6" dy="-6.6" font-size="10.5">2</tspan><tspan dy="6.6"> = 15.7, </tspan><tspan font-style="italic">p</tspan> = 0.001</text>
<text x="83.9" y="909.4" font-size="22.4" text-anchor="start" font-weight="bold" font-style="normal" >C</text>
<text x="142.4" y="901.6" font-size="13" text-anchor="start" font-weight="normal" font-style="normal" >K-W: &#967;<tspan dx="0.6" dy="-6.6" font-size="10.5">2</tspan><tspan dy="6.6"> = 20.9, </tspan><tspan font-style="italic">p</tspan> = 0.0001</text>
<text x="335.8" y="23.6" font-size="13" text-anchor="middle" font-weight="normal" font-style="normal" >a</text>
<text x="452.3" y="23.6" font-size="13" text-anchor="middle" font-weight="normal" font-style="normal" >a</text>
<text x="531.6" y="23.6" font-size="13" text-anchor="middle" font-weight="normal" font-style="normal" >a</text>
<text x="611.2" y="23.6" font-size="13" text-anchor="middle" font-weight="normal" font-style="normal" >a</text>
<text x="336.1" y="460.3" font-size="13" text-anchor="middle" font-weight="normal" font-style="normal" >a</text>
<text x="452.7" y="460.3" font-size="13" text-anchor="middle" font-weight="normal" font-style="normal" >ab</text>
<text x="534.3" y="460.3" font-size="13" text-anchor="middle" font-weight="normal" font-style="normal" >ab</text>
<text x="610.9" y="460.3" font-size="13" text-anchor="middle" font-weight="normal" font-style="normal" >b</text>
<text x="337.5" y="900.6" font-size="13" text-anchor="middle" font-weight="normal" font-style="normal" >a</text>
<text x="454.3" y="900.6" font-size="13" text-anchor="middle" font-weight="normal" font-style="normal" >ab</text>
<text x="536.1" y="900.6" font-size="13" text-anchor="middle" font-weight="normal" font-style="normal" >ab</text>
<text x="611.8" y="900.6" font-size="13" text-anchor="middle" font-weight="normal" font-style="normal" >b</text>
<text transform="translate(19.6 221.8) rotate(-90)" font-size="19.5" letter-spacing="-0.25" text-anchor="middle" font-weight="bold">&#948;<tspan dy="-8.6" font-size="12">13</tspan><tspan dy="8.6">C</tspan><tspan dy="3.8" font-size="13.5">VPDB</tspan><tspan dy="-3.8">(&#8240;)</tspan></text>
<text transform="translate(19.6 661.2) rotate(-90)" font-size="19.5" letter-spacing="-0.25" text-anchor="middle" font-weight="bold">&#948;<tspan dy="-8.6" font-size="12">18</tspan><tspan dy="8.6">O</tspan><tspan dy="3.8" font-size="13.5">VPDB</tspan><tspan dy="-3.8">(&#8240;)</tspan></text>
<text transform="translate(22.8 1099.8) rotate(-90)" font-size="19.5" letter-spacing="0" text-anchor="middle" font-weight="bold"><tspan dy="-8.6" font-size="12">87</tspan><tspan dy="8.6">Sr/</tspan><tspan dy="-8.6" font-size="12">86</tspan><tspan dy="8.6">Sr</tspan></text>
<text x="134.3" y="1342.6" font-size="15.3" text-anchor="middle" font-weight="normal" font-style="normal" >M<tspan dy="3.2" font-size="10.8">2</tspan><tspan dy="-3.2">'s</tspan></text>
<text x="213.82" y="1342.6" font-size="15.3" text-anchor="middle" font-weight="normal" font-style="normal" >M<tspan dy="3.2" font-size="10.8">3</tspan><tspan dy="-3.2">'s</tspan></text>
<text x="293.34" y="1342.6" font-size="15.3" text-anchor="middle" font-weight="normal" font-style="normal" >M<tspan dy="3.2" font-size="10.8">2</tspan><tspan dy="-3.2">'s</tspan></text>
<text x="372.86" y="1342.6" font-size="15.3" text-anchor="middle" font-weight="normal" font-style="normal" >M<tspan dy="3.2" font-size="10.8">3</tspan><tspan dy="-3.2">'s</tspan></text>
<text x="175.6" y="1364.6" font-size="12.8" text-anchor="middle" font-weight="bold" font-style="normal" >Serially sampled</text>
<text x="333.7" y="1364.6" font-size="12.8" text-anchor="middle" font-weight="bold" font-style="normal" >Bulk sampled</text>
<text x="259" y="1387" font-size="12.8" text-anchor="middle" font-weight="bold" font-style="italic" >Teleoceras major</text>
<text x="573" y="1427.6" font-size="12.6" text-anchor="middle" font-weight="bold" font-style="normal" >Co-occurring ungulate families</text>
<text transform="translate(446.38 1336.1) rotate(30)" font-size="12.6" font-style="italic">Blastomerycinae (N = 3)</text>
<text transform="translate(525.9 1336.1) rotate(30)" font-size="12.6" font-style="italic">Camelidae (N = 2)</text>
<text transform="translate(605.42 1336.1) rotate(30)" font-size="12.6" font-style="italic">Equidae (N = 9)</text>
<rect x="84.1" y="1399.7" width="9" height="9" fill="#000"/>
<rect x="83.8" y="1414.4" width="9.6" height="9.6" fill="#fff" stroke="#000" stroke-width="1.4"/>
<circle cx="88.8" cy="1434.6" r="5.25" fill="#000"/>
<circle cx="88.6" cy="1449" r="5.5" fill="#fff" stroke="#000" stroke-width="1.4"/>
<text x="100.3" y="1408" font-size="12.6" text-anchor="start" font-weight="normal" font-style="normal" >UNSM 52272 &#8220;Woofy&#8221;</text>
<text x="100.3" y="1423.3" font-size="12.6" text-anchor="start" font-weight="normal" font-style="normal" >UNSM 27805 &#8220;Grandpa John&#8221;</text>
<text x="100.3" y="1438.6" font-size="12.6" text-anchor="start" font-weight="normal" font-style="normal" >UNSM 52286 &#8220;Mary Anning&#8221;</text>
<text x="100.3" y="1454" font-size="12.6" text-anchor="start" font-weight="normal" font-style="normal" >UNSM 27807 &#8220;Sparky&#8221;</text>
<rect x="292.8" y="1413.9" width="11" height="11" fill="#000"/>
<circle cx="298.2" cy="1434.1" r="6.15" fill="#000"/>
<text x="309.7" y="1423.2" font-size="12.6" text-anchor="start" font-weight="normal" font-style="normal" >Males (N = 5)</text>
<text x="309.7" y="1438" font-size="12.6" text-anchor="start" font-weight="normal" font-style="normal" >Females (N = 8)</text>
</g>
</svg>
</body></html>
